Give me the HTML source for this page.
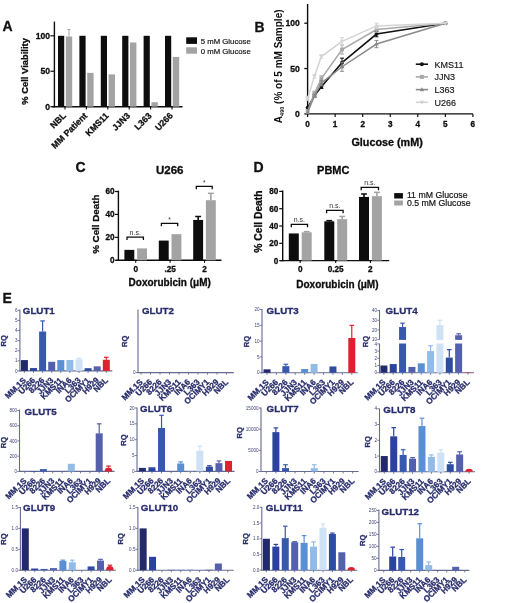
<!DOCTYPE html>
<html><head><meta charset="utf-8"><style>
html,body{margin:0;padding:0;background:#fff;}
svg{display:block;filter:blur(0.4px);}
text{font-family:"Liberation Sans", sans-serif;}
</style></head><body>
<svg width="520" height="603" viewBox="0 0 520 603">
<rect width="520" height="603" fill="#fff"/>
<text x="2.50" y="31.00" font-size="14" fill="#111" font-weight="bold" text-anchor="start" stroke="#111" stroke-width="0.3">A</text>
<line x1="54.40" y1="21.60" x2="54.40" y2="107.30" stroke="#0d0d0d" stroke-width="1.4"/>
<line x1="52.20" y1="106.70" x2="182.50" y2="106.70" stroke="#0d0d0d" stroke-width="1.4"/>
<line x1="50.40" y1="106.70" x2="54.40" y2="106.70" stroke="#0d0d0d" stroke-width="1.2"/>
<text x="50.00" y="109.70" font-size="8.6" fill="#0d0d0d" font-weight="bold" text-anchor="end" stroke="#0d0d0d" stroke-width="0.3">0</text>
<line x1="50.40" y1="71.25" x2="54.40" y2="71.25" stroke="#0d0d0d" stroke-width="1.2"/>
<text x="50.00" y="74.25" font-size="8.6" fill="#0d0d0d" font-weight="bold" text-anchor="end" stroke="#0d0d0d" stroke-width="0.3">50</text>
<line x1="50.40" y1="35.80" x2="54.40" y2="35.80" stroke="#0d0d0d" stroke-width="1.2"/>
<text x="50.00" y="38.80" font-size="8.6" fill="#0d0d0d" font-weight="bold" text-anchor="end" stroke="#0d0d0d" stroke-width="0.3">100</text>
<text x="28.20" y="71.40" font-size="9.4" fill="#0d0d0d" font-weight="bold" text-anchor="middle" transform="rotate(-90 28.20 71.40)" stroke="#0d0d0d" stroke-width="0.3">% Cell Viability</text>
<rect x="58.00" y="35.80" width="6.20" height="70.90" fill="#0d0d0d"/>
<rect x="65.80" y="36.51" width="6.40" height="70.19" fill="#a3a3a3"/>
<line x1="69.00" y1="29.56" x2="69.00" y2="36.51" stroke="#a3a3a3" stroke-width="1.0"/>
<line x1="67.50" y1="29.56" x2="70.50" y2="29.56" stroke="#a3a3a3" stroke-width="1.0"/>
<line x1="65.00" y1="106.70" x2="65.00" y2="109.50" stroke="#0d0d0d" stroke-width="1.1"/>
<text x="66.50" y="116.30" font-size="8.8" fill="#0d0d0d" font-weight="bold" text-anchor="end" transform="rotate(-45 66.50 116.30)" stroke="#0d0d0d" stroke-width="0.3">NBL</text>
<rect x="79.40" y="35.80" width="6.20" height="70.90" fill="#0d0d0d"/>
<rect x="87.20" y="72.88" width="6.40" height="33.82" fill="#a3a3a3"/>
<line x1="86.40" y1="106.70" x2="86.40" y2="109.50" stroke="#0d0d0d" stroke-width="1.1"/>
<text x="87.90" y="116.30" font-size="8.8" fill="#0d0d0d" font-weight="bold" text-anchor="end" transform="rotate(-45 87.90 116.30)" stroke="#0d0d0d" stroke-width="0.3">MM Patient</text>
<rect x="100.80" y="35.80" width="6.20" height="70.90" fill="#0d0d0d"/>
<rect x="108.60" y="74.37" width="6.40" height="32.33" fill="#a3a3a3"/>
<line x1="107.80" y1="106.70" x2="107.80" y2="109.50" stroke="#0d0d0d" stroke-width="1.1"/>
<text x="109.30" y="116.30" font-size="8.8" fill="#0d0d0d" font-weight="bold" text-anchor="end" transform="rotate(-45 109.30 116.30)" stroke="#0d0d0d" stroke-width="0.3">KMS11</text>
<rect x="122.20" y="35.80" width="6.20" height="70.90" fill="#0d0d0d"/>
<rect x="130.00" y="42.46" width="6.40" height="64.24" fill="#a3a3a3"/>
<line x1="129.20" y1="106.70" x2="129.20" y2="109.50" stroke="#0d0d0d" stroke-width="1.1"/>
<text x="130.70" y="116.30" font-size="8.8" fill="#0d0d0d" font-weight="bold" text-anchor="end" transform="rotate(-45 130.70 116.30)" stroke="#0d0d0d" stroke-width="0.3">JJN3</text>
<rect x="143.60" y="35.80" width="6.20" height="70.90" fill="#0d0d0d"/>
<rect x="151.40" y="102.23" width="6.40" height="4.47" fill="#a3a3a3"/>
<line x1="150.60" y1="106.70" x2="150.60" y2="109.50" stroke="#0d0d0d" stroke-width="1.1"/>
<text x="152.10" y="116.30" font-size="8.8" fill="#0d0d0d" font-weight="bold" text-anchor="end" transform="rotate(-45 152.10 116.30)" stroke="#0d0d0d" stroke-width="0.3">L363</text>
<rect x="165.00" y="35.80" width="6.20" height="70.90" fill="#0d0d0d"/>
<rect x="172.80" y="56.93" width="6.40" height="49.77" fill="#a3a3a3"/>
<line x1="172.00" y1="106.70" x2="172.00" y2="109.50" stroke="#0d0d0d" stroke-width="1.1"/>
<text x="173.50" y="116.30" font-size="8.8" fill="#0d0d0d" font-weight="bold" text-anchor="end" transform="rotate(-45 173.50 116.30)" stroke="#0d0d0d" stroke-width="0.3">U266</text>
<rect x="186.20" y="37.30" width="10.80" height="6.60" fill="#0d0d0d"/>
<rect x="186.20" y="47.30" width="10.80" height="6.40" fill="#a3a3a3"/>
<text x="200.80" y="43.80" font-size="7.75" fill="#111" font-weight="normal" text-anchor="start" stroke="#111" stroke-width="0.18">5 mM Glucose</text>
<text x="200.80" y="53.60" font-size="7.75" fill="#111" font-weight="normal" text-anchor="start" stroke="#111" stroke-width="0.18">0 mM Glucose</text>
<text x="254.50" y="31.80" font-size="14" fill="#111" font-weight="bold" text-anchor="start" stroke="#111" stroke-width="0.3">B</text>
<line x1="307.60" y1="4.00" x2="307.60" y2="114.50" stroke="#0d0d0d" stroke-width="1.4"/>
<line x1="306.90" y1="113.90" x2="472.90" y2="113.90" stroke="#0d0d0d" stroke-width="1.4"/>
<line x1="304.30" y1="113.90" x2="307.60" y2="113.90" stroke="#0d0d0d" stroke-width="1.3"/>
<text x="299.80" y="116.90" font-size="8.6" fill="#0d0d0d" font-weight="bold" text-anchor="end" stroke="#0d0d0d" stroke-width="0.3">0</text>
<line x1="304.30" y1="68.55" x2="307.60" y2="68.55" stroke="#0d0d0d" stroke-width="1.3"/>
<text x="299.80" y="71.55" font-size="8.6" fill="#0d0d0d" font-weight="bold" text-anchor="end" stroke="#0d0d0d" stroke-width="0.3">50</text>
<line x1="304.30" y1="23.20" x2="307.60" y2="23.20" stroke="#0d0d0d" stroke-width="1.3"/>
<text x="299.80" y="26.20" font-size="8.6" fill="#0d0d0d" font-weight="bold" text-anchor="end" stroke="#0d0d0d" stroke-width="0.3">100</text>
<line x1="307.60" y1="113.90" x2="307.60" y2="116.90" stroke="#0d0d0d" stroke-width="1.2"/>
<text x="307.60" y="127.30" font-size="8.2" fill="#0d0d0d" font-weight="bold" text-anchor="middle" stroke="#0d0d0d" stroke-width="0.3">0</text>
<line x1="335.15" y1="113.90" x2="335.15" y2="116.90" stroke="#0d0d0d" stroke-width="1.2"/>
<text x="335.15" y="127.30" font-size="8.2" fill="#0d0d0d" font-weight="bold" text-anchor="middle" stroke="#0d0d0d" stroke-width="0.3">1</text>
<line x1="362.70" y1="113.90" x2="362.70" y2="116.90" stroke="#0d0d0d" stroke-width="1.2"/>
<text x="362.70" y="127.30" font-size="8.2" fill="#0d0d0d" font-weight="bold" text-anchor="middle" stroke="#0d0d0d" stroke-width="0.3">2</text>
<line x1="390.25" y1="113.90" x2="390.25" y2="116.90" stroke="#0d0d0d" stroke-width="1.2"/>
<text x="390.25" y="127.30" font-size="8.2" fill="#0d0d0d" font-weight="bold" text-anchor="middle" stroke="#0d0d0d" stroke-width="0.3">3</text>
<line x1="417.80" y1="113.90" x2="417.80" y2="116.90" stroke="#0d0d0d" stroke-width="1.2"/>
<text x="417.80" y="127.30" font-size="8.2" fill="#0d0d0d" font-weight="bold" text-anchor="middle" stroke="#0d0d0d" stroke-width="0.3">4</text>
<line x1="445.35" y1="113.90" x2="445.35" y2="116.90" stroke="#0d0d0d" stroke-width="1.2"/>
<text x="445.35" y="127.30" font-size="8.2" fill="#0d0d0d" font-weight="bold" text-anchor="middle" stroke="#0d0d0d" stroke-width="0.3">5</text>
<line x1="472.90" y1="113.90" x2="472.90" y2="116.90" stroke="#0d0d0d" stroke-width="1.2"/>
<text x="472.90" y="127.30" font-size="8.2" fill="#0d0d0d" font-weight="bold" text-anchor="middle" stroke="#0d0d0d" stroke-width="0.3">6</text>
<text x="387.10" y="145.70" font-size="10.8" fill="#0d0d0d" font-weight="bold" text-anchor="middle" stroke="#0d0d0d" stroke-width="0.3">Glucose (mM)</text>
<text transform="translate(281.8 66.3) rotate(-90)" font-size="10" font-weight="bold" fill="#0d0d0d" text-anchor="middle">A<tspan font-size="5.5" dy="2">490</tspan><tspan dy="-2"> (% of 5 mM Sample)</tspan></text>
<polyline points="307.60,107.55 314.49,95.76 321.38,86.69 342.04,62.65 376.48,34.08 445.35,23.20" fill="none" stroke="#111111" stroke-width="1.5"/>
<circle cx="307.60" cy="107.55" r="1.9" fill="#111111"/>
<line x1="314.49" y1="94.40" x2="314.49" y2="97.12" stroke="#111111" stroke-width="1.0"/>
<line x1="312.49" y1="94.40" x2="316.49" y2="94.40" stroke="#111111" stroke-width="1.0"/>
<line x1="312.49" y1="97.12" x2="316.49" y2="97.12" stroke="#111111" stroke-width="1.0"/>
<circle cx="314.49" cy="95.76" r="1.9" fill="#111111"/>
<line x1="321.38" y1="84.88" x2="321.38" y2="88.50" stroke="#111111" stroke-width="1.0"/>
<line x1="319.38" y1="84.88" x2="323.38" y2="84.88" stroke="#111111" stroke-width="1.0"/>
<line x1="319.38" y1="88.50" x2="323.38" y2="88.50" stroke="#111111" stroke-width="1.0"/>
<circle cx="321.38" cy="86.69" r="1.9" fill="#111111"/>
<line x1="342.04" y1="58.12" x2="342.04" y2="67.19" stroke="#111111" stroke-width="1.0"/>
<line x1="340.04" y1="58.12" x2="344.04" y2="58.12" stroke="#111111" stroke-width="1.0"/>
<line x1="340.04" y1="67.19" x2="344.04" y2="67.19" stroke="#111111" stroke-width="1.0"/>
<circle cx="342.04" cy="62.65" r="1.9" fill="#111111"/>
<line x1="376.48" y1="31.36" x2="376.48" y2="36.81" stroke="#111111" stroke-width="1.0"/>
<line x1="374.48" y1="31.36" x2="378.48" y2="31.36" stroke="#111111" stroke-width="1.0"/>
<line x1="374.48" y1="36.81" x2="378.48" y2="36.81" stroke="#111111" stroke-width="1.0"/>
<circle cx="376.48" cy="34.08" r="1.9" fill="#111111"/>
<circle cx="445.35" cy="23.20" r="1.9" fill="#111111"/>
<polyline points="307.60,111.18 314.49,93.04 321.38,78.53 342.04,49.50 376.48,29.55 445.35,23.20" fill="none" stroke="#a8a8a8" stroke-width="1.5"/>
<rect x="305.70" y="109.28" width="3.80" height="3.80" fill="#a8a8a8"/>
<line x1="314.49" y1="91.22" x2="314.49" y2="94.85" stroke="#a8a8a8" stroke-width="1.0"/>
<line x1="312.49" y1="91.22" x2="316.49" y2="91.22" stroke="#a8a8a8" stroke-width="1.0"/>
<line x1="312.49" y1="94.85" x2="316.49" y2="94.85" stroke="#a8a8a8" stroke-width="1.0"/>
<rect x="312.59" y="91.14" width="3.80" height="3.80" fill="#a8a8a8"/>
<line x1="321.38" y1="75.81" x2="321.38" y2="81.25" stroke="#a8a8a8" stroke-width="1.0"/>
<line x1="319.38" y1="75.81" x2="323.38" y2="75.81" stroke="#a8a8a8" stroke-width="1.0"/>
<line x1="319.38" y1="81.25" x2="323.38" y2="81.25" stroke="#a8a8a8" stroke-width="1.0"/>
<rect x="319.48" y="76.63" width="3.80" height="3.80" fill="#a8a8a8"/>
<line x1="342.04" y1="44.97" x2="342.04" y2="54.04" stroke="#a8a8a8" stroke-width="1.0"/>
<line x1="340.04" y1="44.97" x2="344.04" y2="44.97" stroke="#a8a8a8" stroke-width="1.0"/>
<line x1="340.04" y1="54.04" x2="344.04" y2="54.04" stroke="#a8a8a8" stroke-width="1.0"/>
<rect x="340.14" y="47.60" width="3.80" height="3.80" fill="#a8a8a8"/>
<line x1="376.48" y1="26.83" x2="376.48" y2="32.27" stroke="#a8a8a8" stroke-width="1.0"/>
<line x1="374.48" y1="26.83" x2="378.48" y2="26.83" stroke="#a8a8a8" stroke-width="1.0"/>
<line x1="374.48" y1="32.27" x2="378.48" y2="32.27" stroke="#a8a8a8" stroke-width="1.0"/>
<rect x="374.58" y="27.65" width="3.80" height="3.80" fill="#a8a8a8"/>
<rect x="443.45" y="21.30" width="3.80" height="3.80" fill="#a8a8a8"/>
<polyline points="307.60,112.54 314.49,95.76 321.38,83.06 342.04,66.74 376.48,44.06 445.35,23.20" fill="none" stroke="#8a8a8a" stroke-width="1.5"/>
<polygon points="307.60,110.26 309.79,114.06 305.42,114.06" fill="#8a8a8a"/>
<line x1="314.49" y1="93.95" x2="314.49" y2="97.57" stroke="#8a8a8a" stroke-width="1.0"/>
<line x1="312.49" y1="93.95" x2="316.49" y2="93.95" stroke="#8a8a8a" stroke-width="1.0"/>
<line x1="312.49" y1="97.57" x2="316.49" y2="97.57" stroke="#8a8a8a" stroke-width="1.0"/>
<polygon points="314.49,93.48 316.67,97.28 312.30,97.28" fill="#8a8a8a"/>
<line x1="321.38" y1="80.34" x2="321.38" y2="85.78" stroke="#8a8a8a" stroke-width="1.0"/>
<line x1="319.38" y1="80.34" x2="323.38" y2="80.34" stroke="#8a8a8a" stroke-width="1.0"/>
<line x1="319.38" y1="85.78" x2="323.38" y2="85.78" stroke="#8a8a8a" stroke-width="1.0"/>
<polygon points="321.38,80.78 323.56,84.58 319.19,84.58" fill="#8a8a8a"/>
<line x1="342.04" y1="62.20" x2="342.04" y2="71.27" stroke="#8a8a8a" stroke-width="1.0"/>
<line x1="340.04" y1="62.20" x2="344.04" y2="62.20" stroke="#8a8a8a" stroke-width="1.0"/>
<line x1="340.04" y1="71.27" x2="344.04" y2="71.27" stroke="#8a8a8a" stroke-width="1.0"/>
<polygon points="342.04,64.46 344.22,68.26 339.85,68.26" fill="#8a8a8a"/>
<line x1="376.48" y1="40.43" x2="376.48" y2="47.69" stroke="#8a8a8a" stroke-width="1.0"/>
<line x1="374.48" y1="40.43" x2="378.48" y2="40.43" stroke="#8a8a8a" stroke-width="1.0"/>
<line x1="374.48" y1="47.69" x2="378.48" y2="47.69" stroke="#8a8a8a" stroke-width="1.0"/>
<polygon points="376.48,41.78 378.66,45.58 374.29,45.58" fill="#8a8a8a"/>
<polygon points="445.35,20.92 447.54,24.72 443.17,24.72" fill="#8a8a8a"/>
<polyline points="307.60,98.48 314.49,76.26 321.38,56.58 342.04,41.34 376.48,25.92 445.35,23.20" fill="none" stroke="#d4d4d4" stroke-width="1.5"/>
<line x1="307.60" y1="96.67" x2="307.60" y2="100.30" stroke="#d4d4d4" stroke-width="1.0"/>
<line x1="305.60" y1="96.67" x2="309.60" y2="96.67" stroke="#d4d4d4" stroke-width="1.0"/>
<line x1="305.60" y1="100.30" x2="309.60" y2="100.30" stroke="#d4d4d4" stroke-width="1.0"/>
<polygon points="307.60,100.76 309.79,96.96 305.42,96.96" fill="#d4d4d4"/>
<line x1="314.49" y1="74.45" x2="314.49" y2="78.07" stroke="#d4d4d4" stroke-width="1.0"/>
<line x1="312.49" y1="74.45" x2="316.49" y2="74.45" stroke="#d4d4d4" stroke-width="1.0"/>
<line x1="312.49" y1="78.07" x2="316.49" y2="78.07" stroke="#d4d4d4" stroke-width="1.0"/>
<polygon points="314.49,78.54 316.67,74.74 312.30,74.74" fill="#d4d4d4"/>
<line x1="321.38" y1="54.76" x2="321.38" y2="58.39" stroke="#d4d4d4" stroke-width="1.0"/>
<line x1="319.38" y1="54.76" x2="323.38" y2="54.76" stroke="#d4d4d4" stroke-width="1.0"/>
<line x1="319.38" y1="58.39" x2="323.38" y2="58.39" stroke="#d4d4d4" stroke-width="1.0"/>
<polygon points="321.38,58.86 323.56,55.06 319.19,55.06" fill="#d4d4d4"/>
<line x1="342.04" y1="37.71" x2="342.04" y2="44.97" stroke="#d4d4d4" stroke-width="1.0"/>
<line x1="340.04" y1="37.71" x2="344.04" y2="37.71" stroke="#d4d4d4" stroke-width="1.0"/>
<line x1="340.04" y1="44.97" x2="344.04" y2="44.97" stroke="#d4d4d4" stroke-width="1.0"/>
<polygon points="342.04,43.62 344.22,39.82 339.85,39.82" fill="#d4d4d4"/>
<line x1="376.48" y1="23.20" x2="376.48" y2="28.64" stroke="#d4d4d4" stroke-width="1.0"/>
<line x1="374.48" y1="23.20" x2="378.48" y2="23.20" stroke="#d4d4d4" stroke-width="1.0"/>
<line x1="374.48" y1="28.64" x2="378.48" y2="28.64" stroke="#d4d4d4" stroke-width="1.0"/>
<polygon points="376.48,28.20 378.66,24.40 374.29,24.40" fill="#d4d4d4"/>
<polygon points="445.35,25.48 447.54,21.68 443.17,21.68" fill="#d4d4d4"/>
<line x1="415.80" y1="64.20" x2="428.00" y2="64.20" stroke="#111111" stroke-width="1.6"/>
<circle cx="421.90" cy="64.20" r="2.0" fill="#111111"/>
<text x="434.60" y="67.50" font-size="9" fill="#1a1a1a" font-weight="normal" text-anchor="start" stroke="#1a1a1a" stroke-width="0.18">KMS11</text>
<line x1="415.80" y1="76.90" x2="428.00" y2="76.90" stroke="#a8a8a8" stroke-width="1.6"/>
<rect x="419.90" y="74.90" width="4.00" height="4.00" fill="#a8a8a8"/>
<text x="434.60" y="80.20" font-size="9" fill="#1a1a1a" font-weight="normal" text-anchor="start" stroke="#1a1a1a" stroke-width="0.18">JJN3</text>
<line x1="415.80" y1="89.60" x2="428.00" y2="89.60" stroke="#8a8a8a" stroke-width="1.6"/>
<polygon points="421.90,87.20 424.20,91.20 419.60,91.20" fill="#8a8a8a"/>
<text x="434.60" y="92.90" font-size="9" fill="#1a1a1a" font-weight="normal" text-anchor="start" stroke="#1a1a1a" stroke-width="0.18">L363</text>
<line x1="415.80" y1="102.30" x2="428.00" y2="102.30" stroke="#d4d4d4" stroke-width="1.6"/>
<polygon points="421.90,104.70 424.20,100.70 419.60,100.70" fill="#d4d4d4"/>
<text x="434.60" y="105.60" font-size="9" fill="#1a1a1a" font-weight="normal" text-anchor="start" stroke="#1a1a1a" stroke-width="0.18">U266</text>
<text x="75.50" y="171.90" font-size="14" fill="#111" font-weight="bold" text-anchor="start" stroke="#111" stroke-width="0.3">C</text>
<text x="169.70" y="173.60" font-size="11.5" fill="#0d0d0d" font-weight="bold" text-anchor="middle" stroke="#0d0d0d" stroke-width="0.3">U266</text>
<line x1="118.40" y1="190.60" x2="118.40" y2="260.90" stroke="#0d0d0d" stroke-width="1.4"/>
<line x1="116.20" y1="260.30" x2="221.50" y2="260.30" stroke="#0d0d0d" stroke-width="1.4"/>
<line x1="114.90" y1="260.30" x2="118.40" y2="260.30" stroke="#0d0d0d" stroke-width="1.2"/>
<text x="114.50" y="263.20" font-size="8.2" fill="#0d0d0d" font-weight="bold" text-anchor="end" stroke="#0d0d0d" stroke-width="0.3">0</text>
<line x1="114.90" y1="237.37" x2="118.40" y2="237.37" stroke="#0d0d0d" stroke-width="1.2"/>
<text x="114.50" y="240.27" font-size="8.2" fill="#0d0d0d" font-weight="bold" text-anchor="end" stroke="#0d0d0d" stroke-width="0.3">20</text>
<line x1="114.90" y1="214.43" x2="118.40" y2="214.43" stroke="#0d0d0d" stroke-width="1.2"/>
<text x="114.50" y="217.33" font-size="8.2" fill="#0d0d0d" font-weight="bold" text-anchor="end" stroke="#0d0d0d" stroke-width="0.3">40</text>
<line x1="114.90" y1="191.50" x2="118.40" y2="191.50" stroke="#0d0d0d" stroke-width="1.2"/>
<text x="114.50" y="194.40" font-size="8.2" fill="#0d0d0d" font-weight="bold" text-anchor="end" stroke="#0d0d0d" stroke-width="0.3">60</text>
<text x="99.00" y="224.20" font-size="9.8" fill="#0d0d0d" font-weight="bold" text-anchor="middle" transform="rotate(-90 99.00 224.20)" stroke="#0d0d0d" stroke-width="0.3">% Cell Death</text>
<rect x="124.40" y="249.87" width="9.90" height="10.43" fill="#0d0d0d"/>
<rect x="137.10" y="248.37" width="9.90" height="11.93" fill="#a3a3a3"/>
<line x1="135.70" y1="260.30" x2="135.70" y2="262.80" stroke="#0d0d0d" stroke-width="1.1"/>
<text x="135.70" y="272.30" font-size="8.2" fill="#0d0d0d" font-weight="bold" text-anchor="middle" stroke="#0d0d0d" stroke-width="0.3">0</text>
<rect x="158.80" y="240.58" width="9.90" height="19.72" fill="#0d0d0d"/>
<rect x="171.50" y="234.16" width="9.90" height="26.14" fill="#a3a3a3"/>
<line x1="170.10" y1="260.30" x2="170.10" y2="262.80" stroke="#0d0d0d" stroke-width="1.1"/>
<text x="170.10" y="272.30" font-size="8.2" fill="#0d0d0d" font-weight="bold" text-anchor="middle" stroke="#0d0d0d" stroke-width="0.3">.25</text>
<rect x="193.20" y="219.94" width="9.90" height="40.36" fill="#0d0d0d"/>
<rect x="205.90" y="200.21" width="9.90" height="60.09" fill="#a3a3a3"/>
<line x1="198.15" y1="216.50" x2="198.15" y2="219.94" stroke="#0d0d0d" stroke-width="1.6"/>
<line x1="195.20" y1="216.50" x2="201.10" y2="216.50" stroke="#0d0d0d" stroke-width="1.5"/>
<line x1="210.85" y1="193.33" x2="210.85" y2="200.21" stroke="#a3a3a3" stroke-width="1.6"/>
<line x1="207.90" y1="193.33" x2="213.80" y2="193.33" stroke="#a3a3a3" stroke-width="1.5"/>
<line x1="204.50" y1="260.30" x2="204.50" y2="262.80" stroke="#0d0d0d" stroke-width="1.1"/>
<text x="204.50" y="272.30" font-size="8.2" fill="#0d0d0d" font-weight="bold" text-anchor="middle" stroke="#0d0d0d" stroke-width="0.3">2</text>
<polyline points="127.00,240.00 127.00,237.20 143.40,237.20 143.40,240.00" fill="none" stroke="#0d0d0d" stroke-width="1.3"/>
<text x="135.20" y="234.90" font-size="7" fill="#333" font-weight="normal" text-anchor="middle">n.s.</text>
<polyline points="161.40,226.20 161.40,223.40 177.70,223.40 177.70,226.20" fill="none" stroke="#0d0d0d" stroke-width="1.3"/>
<text x="169.55" y="222.20" font-size="6.5" fill="#333" font-weight="normal" text-anchor="middle">*</text>
<polyline points="196.30,189.20 196.30,186.40 212.20,186.40 212.20,189.20" fill="none" stroke="#0d0d0d" stroke-width="1.3"/>
<text x="204.25" y="185.20" font-size="6.5" fill="#333" font-weight="normal" text-anchor="middle">*</text>
<text x="169.70" y="286.40" font-size="10" fill="#0d0d0d" font-weight="bold" text-anchor="middle" stroke="#0d0d0d" stroke-width="0.3">Doxorubicin (&#956;M)</text>
<text x="253.50" y="171.90" font-size="14" fill="#111" font-weight="bold" text-anchor="start" stroke="#111" stroke-width="0.3">D</text>
<text x="333.30" y="174.00" font-size="11" fill="#0d0d0d" font-weight="bold" text-anchor="middle" stroke="#0d0d0d" stroke-width="0.3">PBMC</text>
<line x1="282.70" y1="190.60" x2="282.70" y2="261.20" stroke="#0d0d0d" stroke-width="1.4"/>
<line x1="280.30" y1="260.60" x2="389.20" y2="260.60" stroke="#0d0d0d" stroke-width="1.4"/>
<line x1="279.20" y1="260.60" x2="282.70" y2="260.60" stroke="#0d0d0d" stroke-width="1.2"/>
<text x="278.30" y="263.50" font-size="8.2" fill="#0d0d0d" font-weight="bold" text-anchor="end" stroke="#0d0d0d" stroke-width="0.3">0</text>
<line x1="279.20" y1="243.30" x2="282.70" y2="243.30" stroke="#0d0d0d" stroke-width="1.2"/>
<text x="278.30" y="246.20" font-size="8.2" fill="#0d0d0d" font-weight="bold" text-anchor="end" stroke="#0d0d0d" stroke-width="0.3">20</text>
<line x1="279.20" y1="226.00" x2="282.70" y2="226.00" stroke="#0d0d0d" stroke-width="1.2"/>
<text x="278.30" y="228.90" font-size="8.2" fill="#0d0d0d" font-weight="bold" text-anchor="end" stroke="#0d0d0d" stroke-width="0.3">40</text>
<line x1="279.20" y1="208.70" x2="282.70" y2="208.70" stroke="#0d0d0d" stroke-width="1.2"/>
<text x="278.30" y="211.60" font-size="8.2" fill="#0d0d0d" font-weight="bold" text-anchor="end" stroke="#0d0d0d" stroke-width="0.3">60</text>
<line x1="279.20" y1="191.40" x2="282.70" y2="191.40" stroke="#0d0d0d" stroke-width="1.2"/>
<text x="278.30" y="194.30" font-size="8.2" fill="#0d0d0d" font-weight="bold" text-anchor="end" stroke="#0d0d0d" stroke-width="0.3">80</text>
<text x="261.70" y="221.60" font-size="10.3" fill="#0d0d0d" font-weight="bold" text-anchor="middle" transform="rotate(-90 261.70 221.60)" stroke="#0d0d0d" stroke-width="0.3">% Cell Death</text>
<rect x="288.80" y="233.44" width="10.00" height="27.16" fill="#0d0d0d"/>
<rect x="301.70" y="232.31" width="10.00" height="28.29" fill="#a3a3a3"/>
<line x1="306.70" y1="231.62" x2="306.70" y2="232.31" stroke="#a3a3a3" stroke-width="1.6"/>
<line x1="303.80" y1="231.62" x2="309.60" y2="231.62" stroke="#a3a3a3" stroke-width="1.5"/>
<line x1="300.20" y1="260.60" x2="300.20" y2="263.10" stroke="#0d0d0d" stroke-width="1.1"/>
<text x="300.20" y="271.80" font-size="8.2" fill="#0d0d0d" font-weight="bold" text-anchor="middle" stroke="#0d0d0d" stroke-width="0.3">0</text>
<rect x="324.30" y="221.33" width="10.00" height="39.27" fill="#0d0d0d"/>
<rect x="337.20" y="219.17" width="10.00" height="41.43" fill="#a3a3a3"/>
<line x1="329.30" y1="220.64" x2="329.30" y2="221.33" stroke="#0d0d0d" stroke-width="1.6"/>
<line x1="326.40" y1="220.64" x2="332.20" y2="220.64" stroke="#0d0d0d" stroke-width="1.5"/>
<line x1="342.20" y1="216.40" x2="342.20" y2="219.17" stroke="#a3a3a3" stroke-width="1.6"/>
<line x1="339.30" y1="216.40" x2="345.10" y2="216.40" stroke="#a3a3a3" stroke-width="1.5"/>
<line x1="335.70" y1="260.60" x2="335.70" y2="263.10" stroke="#0d0d0d" stroke-width="1.1"/>
<text x="335.70" y="271.80" font-size="8.2" fill="#0d0d0d" font-weight="bold" text-anchor="middle" stroke="#0d0d0d" stroke-width="0.3">0.25</text>
<rect x="359.00" y="196.94" width="10.00" height="63.66" fill="#0d0d0d"/>
<rect x="371.90" y="196.16" width="10.00" height="64.44" fill="#a3a3a3"/>
<line x1="364.00" y1="194.00" x2="364.00" y2="196.94" stroke="#0d0d0d" stroke-width="1.6"/>
<line x1="361.10" y1="194.00" x2="366.90" y2="194.00" stroke="#0d0d0d" stroke-width="1.5"/>
<line x1="376.90" y1="192.35" x2="376.90" y2="196.16" stroke="#a3a3a3" stroke-width="1.6"/>
<line x1="374.00" y1="192.35" x2="379.80" y2="192.35" stroke="#a3a3a3" stroke-width="1.5"/>
<line x1="370.40" y1="260.60" x2="370.40" y2="263.10" stroke="#0d0d0d" stroke-width="1.1"/>
<text x="370.40" y="271.80" font-size="8.2" fill="#0d0d0d" font-weight="bold" text-anchor="middle" stroke="#0d0d0d" stroke-width="0.3">2</text>
<polyline points="291.30,227.20 291.30,224.40 307.50,224.40 307.50,227.20" fill="none" stroke="#0d0d0d" stroke-width="1.3"/>
<text x="299.40" y="222.10" font-size="7" fill="#333" font-weight="normal" text-anchor="middle">n.s.</text>
<polyline points="326.60,213.20 326.60,210.40 343.10,210.40 343.10,213.20" fill="none" stroke="#0d0d0d" stroke-width="1.3"/>
<text x="334.85" y="208.10" font-size="7" fill="#333" font-weight="normal" text-anchor="middle">n.s.</text>
<polyline points="361.20,190.20 361.20,187.40 378.50,187.40 378.50,190.20" fill="none" stroke="#0d0d0d" stroke-width="1.3"/>
<text x="369.85" y="185.10" font-size="7" fill="#333" font-weight="normal" text-anchor="middle">n.s.</text>
<text x="337.40" y="287.70" font-size="10" fill="#0d0d0d" font-weight="bold" text-anchor="middle" stroke="#0d0d0d" stroke-width="0.3">Doxorubicin (&#956;M)</text>
<rect x="394.20" y="193.10" width="8.70" height="5.40" fill="#0d0d0d"/>
<rect x="394.20" y="200.50" width="8.70" height="5.00" fill="#a3a3a3"/>
<text x="406.90" y="198.10" font-size="8.75" fill="#111" font-weight="normal" text-anchor="start" stroke="#111" stroke-width="0.18">11 mM Glucose</text>
<text x="406.90" y="205.90" font-size="8.75" fill="#111" font-weight="normal" text-anchor="start" stroke="#111" stroke-width="0.18">0.5 mM Glucose</text>
<text x="2.50" y="302.50" font-size="14" fill="#111" font-weight="bold" text-anchor="start" stroke="#111" stroke-width="0.3">E</text>
<line x1="19.90" y1="309.50" x2="19.90" y2="371.40" stroke="#666b92" stroke-width="1.1"/>
<line x1="19.40" y1="370.90" x2="112.30" y2="370.90" stroke="#666b92" stroke-width="1.1"/>
<line x1="17.70" y1="370.90" x2="19.90" y2="370.90" stroke="#666b92" stroke-width="0.9"/>
<text x="17.50" y="372.50" font-size="4.6" fill="#3c4175" font-weight="normal" text-anchor="end">0</text>
<line x1="17.70" y1="360.80" x2="19.90" y2="360.80" stroke="#666b92" stroke-width="0.9"/>
<text x="17.50" y="362.40" font-size="4.6" fill="#3c4175" font-weight="normal" text-anchor="end">1</text>
<line x1="17.70" y1="350.70" x2="19.90" y2="350.70" stroke="#666b92" stroke-width="0.9"/>
<text x="17.50" y="352.30" font-size="4.6" fill="#3c4175" font-weight="normal" text-anchor="end">2</text>
<line x1="17.70" y1="340.60" x2="19.90" y2="340.60" stroke="#666b92" stroke-width="0.9"/>
<text x="17.50" y="342.20" font-size="4.6" fill="#3c4175" font-weight="normal" text-anchor="end">3</text>
<line x1="17.70" y1="330.50" x2="19.90" y2="330.50" stroke="#666b92" stroke-width="0.9"/>
<text x="17.50" y="332.10" font-size="4.6" fill="#3c4175" font-weight="normal" text-anchor="end">4</text>
<line x1="17.70" y1="320.40" x2="19.90" y2="320.40" stroke="#666b92" stroke-width="0.9"/>
<text x="17.50" y="322.00" font-size="4.6" fill="#3c4175" font-weight="normal" text-anchor="end">5</text>
<line x1="17.70" y1="310.30" x2="19.90" y2="310.30" stroke="#666b92" stroke-width="0.9"/>
<text x="17.50" y="311.90" font-size="4.6" fill="#3c4175" font-weight="normal" text-anchor="end">6</text>
<text x="5.90" y="340.80" font-size="7.6" fill="#282d6b" font-weight="bold" text-anchor="middle" transform="rotate(-90 5.90 340.80)" stroke="#282d6b" stroke-width="0.3">RQ</text>
<text x="22.80" y="314.30" font-size="9.75" fill="#282d6b" font-weight="bold" text-anchor="start" stroke="#282d6b" stroke-width="0.3">GLUT1</text>
<line x1="24.40" y1="370.90" x2="24.40" y2="372.90" stroke="#666b92" stroke-width="0.9"/>
<text x="26.70" y="380.90" font-size="8.2" fill="#282d6b" font-weight="bold" text-anchor="end" transform="rotate(-45 26.70 380.90)" stroke="#282d6b" stroke-width="0.3">MM.1S</text>
<rect x="20.90" y="360.09" width="7.00" height="10.81" fill="#222a6c"/>
<line x1="33.50" y1="370.90" x2="33.50" y2="372.90" stroke="#666b92" stroke-width="0.9"/>
<text x="35.80" y="380.90" font-size="8.2" fill="#282d6b" font-weight="bold" text-anchor="end" transform="rotate(-45 35.80 380.90)" stroke="#282d6b" stroke-width="0.3">U266</text>
<rect x="30.00" y="368.07" width="7.00" height="2.83" fill="#2b42a0"/>
<line x1="42.60" y1="370.90" x2="42.60" y2="372.90" stroke="#666b92" stroke-width="0.9"/>
<text x="44.90" y="380.90" font-size="8.2" fill="#282d6b" font-weight="bold" text-anchor="end" transform="rotate(-45 44.90 380.90)" stroke="#282d6b" stroke-width="0.3">8226</text>
<rect x="39.10" y="331.51" width="7.00" height="39.39" fill="#3658ae"/>
<line x1="42.60" y1="320.90" x2="42.60" y2="331.51" stroke="#3658ae" stroke-width="1.2"/>
<line x1="40.30" y1="320.90" x2="44.90" y2="320.90" stroke="#3658ae" stroke-width="1.2"/>
<line x1="51.70" y1="370.90" x2="51.70" y2="372.90" stroke="#666b92" stroke-width="0.9"/>
<text x="54.00" y="380.90" font-size="8.2" fill="#282d6b" font-weight="bold" text-anchor="end" transform="rotate(-45 54.00 380.90)" stroke="#282d6b" stroke-width="0.3">JJN3</text>
<rect x="48.20" y="361.81" width="7.00" height="9.09" fill="#5260ae"/>
<line x1="60.80" y1="370.90" x2="60.80" y2="372.90" stroke="#666b92" stroke-width="0.9"/>
<text x="63.10" y="380.90" font-size="8.2" fill="#282d6b" font-weight="bold" text-anchor="end" transform="rotate(-45 63.10 380.90)" stroke="#282d6b" stroke-width="0.3">KMS11</text>
<rect x="57.30" y="360.09" width="7.00" height="10.81" fill="#5b8fd4"/>
<line x1="69.90" y1="370.90" x2="69.90" y2="372.90" stroke="#666b92" stroke-width="0.9"/>
<text x="72.20" y="380.90" font-size="8.2" fill="#282d6b" font-weight="bold" text-anchor="end" transform="rotate(-45 72.20 380.90)" stroke="#282d6b" stroke-width="0.3">INA6</text>
<rect x="66.40" y="359.99" width="7.00" height="10.91" fill="#93bbe7"/>
<line x1="79.00" y1="370.90" x2="79.00" y2="372.90" stroke="#666b92" stroke-width="0.9"/>
<text x="81.30" y="380.90" font-size="8.2" fill="#282d6b" font-weight="bold" text-anchor="end" transform="rotate(-45 81.30 380.90)" stroke="#282d6b" stroke-width="0.3">L363</text>
<rect x="75.50" y="359.28" width="7.00" height="11.62" fill="#cfe1f5"/>
<line x1="79.00" y1="358.27" x2="79.00" y2="359.28" stroke="#cfe1f5" stroke-width="1.2"/>
<line x1="76.70" y1="358.27" x2="81.30" y2="358.27" stroke="#cfe1f5" stroke-width="1.2"/>
<line x1="88.10" y1="370.90" x2="88.10" y2="372.90" stroke="#666b92" stroke-width="0.9"/>
<text x="90.40" y="380.90" font-size="8.2" fill="#282d6b" font-weight="bold" text-anchor="end" transform="rotate(-45 90.40 380.90)" stroke="#282d6b" stroke-width="0.3">OCIMY1</text>
<rect x="84.60" y="368.17" width="7.00" height="2.73" fill="#2e4ca0"/>
<line x1="97.20" y1="370.90" x2="97.20" y2="372.90" stroke="#666b92" stroke-width="0.9"/>
<text x="99.50" y="380.90" font-size="8.2" fill="#282d6b" font-weight="bold" text-anchor="end" transform="rotate(-45 99.50 380.90)" stroke="#282d6b" stroke-width="0.3">H929</text>
<rect x="93.70" y="366.35" width="7.00" height="4.55" fill="#5560ad"/>
<line x1="106.30" y1="370.90" x2="106.30" y2="372.90" stroke="#666b92" stroke-width="0.9"/>
<text x="108.60" y="380.90" font-size="8.2" fill="#282d6b" font-weight="bold" text-anchor="end" transform="rotate(-45 108.60 380.90)" stroke="#282d6b" stroke-width="0.3">NBL</text>
<rect x="102.80" y="359.79" width="7.00" height="11.11" fill="#e02030"/>
<line x1="106.30" y1="357.26" x2="106.30" y2="359.79" stroke="#e02030" stroke-width="1.2"/>
<line x1="104.00" y1="357.26" x2="108.60" y2="357.26" stroke="#e02030" stroke-width="1.2"/>
<line x1="138.00" y1="309.50" x2="138.00" y2="373.10" stroke="#666b92" stroke-width="1.1"/>
<line x1="137.50" y1="372.60" x2="233.80" y2="372.60" stroke="#666b92" stroke-width="1.1"/>
<line x1="135.80" y1="372.60" x2="138.00" y2="372.60" stroke="#666b92" stroke-width="0.9"/>
<text x="135.60" y="374.20" font-size="4.6" fill="#3c4175" font-weight="normal" text-anchor="end">0</text>
<text x="126.60" y="341.30" font-size="7.6" fill="#282d6b" font-weight="bold" text-anchor="middle" transform="rotate(-90 126.60 341.30)" stroke="#282d6b" stroke-width="0.3">RQ</text>
<text x="141.90" y="313.80" font-size="9.75" fill="#282d6b" font-weight="bold" text-anchor="start" stroke="#282d6b" stroke-width="0.3">GLUT2</text>
<line x1="141.00" y1="372.60" x2="141.00" y2="374.60" stroke="#666b92" stroke-width="0.9"/>
<text x="143.30" y="382.60" font-size="8.2" fill="#282d6b" font-weight="bold" text-anchor="end" transform="rotate(-45 143.30 382.60)" stroke="#282d6b" stroke-width="0.3">MM.1S</text>
<line x1="150.50" y1="372.60" x2="150.50" y2="374.60" stroke="#666b92" stroke-width="0.9"/>
<text x="152.80" y="382.60" font-size="8.2" fill="#282d6b" font-weight="bold" text-anchor="end" transform="rotate(-45 152.80 382.60)" stroke="#282d6b" stroke-width="0.3">U266</text>
<line x1="160.00" y1="372.60" x2="160.00" y2="374.60" stroke="#666b92" stroke-width="0.9"/>
<text x="162.30" y="382.60" font-size="8.2" fill="#282d6b" font-weight="bold" text-anchor="end" transform="rotate(-45 162.30 382.60)" stroke="#282d6b" stroke-width="0.3">8226</text>
<line x1="169.50" y1="372.60" x2="169.50" y2="374.60" stroke="#666b92" stroke-width="0.9"/>
<text x="171.80" y="382.60" font-size="8.2" fill="#282d6b" font-weight="bold" text-anchor="end" transform="rotate(-45 171.80 382.60)" stroke="#282d6b" stroke-width="0.3">JJN3</text>
<line x1="179.00" y1="372.60" x2="179.00" y2="374.60" stroke="#666b92" stroke-width="0.9"/>
<text x="181.30" y="382.60" font-size="8.2" fill="#282d6b" font-weight="bold" text-anchor="end" transform="rotate(-45 181.30 382.60)" stroke="#282d6b" stroke-width="0.3">KMS11</text>
<line x1="188.50" y1="372.60" x2="188.50" y2="374.60" stroke="#666b92" stroke-width="0.9"/>
<text x="190.80" y="382.60" font-size="8.2" fill="#282d6b" font-weight="bold" text-anchor="end" transform="rotate(-45 190.80 382.60)" stroke="#282d6b" stroke-width="0.3">INA6</text>
<line x1="198.00" y1="372.60" x2="198.00" y2="374.60" stroke="#666b92" stroke-width="0.9"/>
<text x="200.30" y="382.60" font-size="8.2" fill="#282d6b" font-weight="bold" text-anchor="end" transform="rotate(-45 200.30 382.60)" stroke="#282d6b" stroke-width="0.3">L363</text>
<line x1="207.50" y1="372.60" x2="207.50" y2="374.60" stroke="#666b92" stroke-width="0.9"/>
<text x="209.80" y="382.60" font-size="8.2" fill="#282d6b" font-weight="bold" text-anchor="end" transform="rotate(-45 209.80 382.60)" stroke="#282d6b" stroke-width="0.3">OCIMY1</text>
<line x1="217.00" y1="372.60" x2="217.00" y2="374.60" stroke="#666b92" stroke-width="0.9"/>
<text x="219.30" y="382.60" font-size="8.2" fill="#282d6b" font-weight="bold" text-anchor="end" transform="rotate(-45 219.30 382.60)" stroke="#282d6b" stroke-width="0.3">H929</text>
<line x1="226.50" y1="372.60" x2="226.50" y2="374.60" stroke="#666b92" stroke-width="0.9"/>
<text x="228.80" y="382.60" font-size="8.2" fill="#282d6b" font-weight="bold" text-anchor="end" transform="rotate(-45 228.80 382.60)" stroke="#282d6b" stroke-width="0.3">NBL</text>
<line x1="262.00" y1="309.00" x2="262.00" y2="373.30" stroke="#666b92" stroke-width="1.1"/>
<line x1="261.50" y1="372.80" x2="357.78" y2="372.80" stroke="#666b92" stroke-width="1.1"/>
<line x1="259.80" y1="372.80" x2="262.00" y2="372.80" stroke="#666b92" stroke-width="0.9"/>
<text x="259.60" y="374.40" font-size="4.6" fill="#3c4175" font-weight="normal" text-anchor="end">0</text>
<line x1="259.80" y1="356.98" x2="262.00" y2="356.98" stroke="#666b92" stroke-width="0.9"/>
<text x="259.60" y="358.58" font-size="4.6" fill="#3c4175" font-weight="normal" text-anchor="end">5</text>
<line x1="259.80" y1="341.15" x2="262.00" y2="341.15" stroke="#666b92" stroke-width="0.9"/>
<text x="259.60" y="342.75" font-size="4.6" fill="#3c4175" font-weight="normal" text-anchor="end">10</text>
<line x1="259.80" y1="325.32" x2="262.00" y2="325.32" stroke="#666b92" stroke-width="0.9"/>
<text x="259.60" y="326.93" font-size="4.6" fill="#3c4175" font-weight="normal" text-anchor="end">15</text>
<line x1="259.80" y1="309.50" x2="262.00" y2="309.50" stroke="#666b92" stroke-width="0.9"/>
<text x="259.60" y="311.10" font-size="4.6" fill="#3c4175" font-weight="normal" text-anchor="end">20</text>
<text x="249.40" y="341.60" font-size="7.6" fill="#282d6b" font-weight="bold" text-anchor="middle" transform="rotate(-90 249.40 341.60)" stroke="#282d6b" stroke-width="0.3">RQ</text>
<text x="266.60" y="313.80" font-size="9.75" fill="#282d6b" font-weight="bold" text-anchor="start" stroke="#282d6b" stroke-width="0.3">GLUT3</text>
<line x1="267.00" y1="372.80" x2="267.00" y2="374.80" stroke="#666b92" stroke-width="0.9"/>
<text x="269.30" y="382.80" font-size="8.2" fill="#282d6b" font-weight="bold" text-anchor="end" transform="rotate(-45 269.30 382.80)" stroke="#282d6b" stroke-width="0.3">MM.1S</text>
<rect x="263.50" y="369.32" width="7.00" height="3.48" fill="#222a6c"/>
<line x1="276.42" y1="372.80" x2="276.42" y2="374.80" stroke="#666b92" stroke-width="0.9"/>
<text x="278.72" y="382.80" font-size="8.2" fill="#282d6b" font-weight="bold" text-anchor="end" transform="rotate(-45 278.72 382.80)" stroke="#282d6b" stroke-width="0.3">U266</text>
<line x1="285.84" y1="372.80" x2="285.84" y2="374.80" stroke="#666b92" stroke-width="0.9"/>
<text x="288.14" y="382.80" font-size="8.2" fill="#282d6b" font-weight="bold" text-anchor="end" transform="rotate(-45 288.14 382.80)" stroke="#282d6b" stroke-width="0.3">8226</text>
<rect x="282.34" y="366.15" width="7.00" height="6.65" fill="#3658ae"/>
<line x1="285.84" y1="364.25" x2="285.84" y2="366.15" stroke="#3658ae" stroke-width="1.2"/>
<line x1="283.54" y1="364.25" x2="288.14" y2="364.25" stroke="#3658ae" stroke-width="1.2"/>
<line x1="295.26" y1="372.80" x2="295.26" y2="374.80" stroke="#666b92" stroke-width="0.9"/>
<text x="297.56" y="382.80" font-size="8.2" fill="#282d6b" font-weight="bold" text-anchor="end" transform="rotate(-45 297.56 382.80)" stroke="#282d6b" stroke-width="0.3">JJN3</text>
<line x1="304.68" y1="372.80" x2="304.68" y2="374.80" stroke="#666b92" stroke-width="0.9"/>
<text x="306.98" y="382.80" font-size="8.2" fill="#282d6b" font-weight="bold" text-anchor="end" transform="rotate(-45 306.98 382.80)" stroke="#282d6b" stroke-width="0.3">KMS11</text>
<rect x="301.18" y="369.00" width="7.00" height="3.80" fill="#5b8fd4"/>
<line x1="314.10" y1="372.80" x2="314.10" y2="374.80" stroke="#666b92" stroke-width="0.9"/>
<text x="316.40" y="382.80" font-size="8.2" fill="#282d6b" font-weight="bold" text-anchor="end" transform="rotate(-45 316.40 382.80)" stroke="#282d6b" stroke-width="0.3">INA6</text>
<rect x="310.60" y="363.94" width="7.00" height="8.86" fill="#93bbe7"/>
<line x1="323.52" y1="372.80" x2="323.52" y2="374.80" stroke="#666b92" stroke-width="0.9"/>
<text x="325.82" y="382.80" font-size="8.2" fill="#282d6b" font-weight="bold" text-anchor="end" transform="rotate(-45 325.82 382.80)" stroke="#282d6b" stroke-width="0.3">L363</text>
<line x1="332.94" y1="372.80" x2="332.94" y2="374.80" stroke="#666b92" stroke-width="0.9"/>
<text x="335.24" y="382.80" font-size="8.2" fill="#282d6b" font-weight="bold" text-anchor="end" transform="rotate(-45 335.24 382.80)" stroke="#282d6b" stroke-width="0.3">OCIMY1</text>
<rect x="329.44" y="366.47" width="7.00" height="6.33" fill="#2e4ca0"/>
<line x1="342.36" y1="372.80" x2="342.36" y2="374.80" stroke="#666b92" stroke-width="0.9"/>
<text x="344.66" y="382.80" font-size="8.2" fill="#282d6b" font-weight="bold" text-anchor="end" transform="rotate(-45 344.66 382.80)" stroke="#282d6b" stroke-width="0.3">H929</text>
<line x1="351.78" y1="372.80" x2="351.78" y2="374.80" stroke="#666b92" stroke-width="0.9"/>
<text x="354.08" y="382.80" font-size="8.2" fill="#282d6b" font-weight="bold" text-anchor="end" transform="rotate(-45 354.08 382.80)" stroke="#282d6b" stroke-width="0.3">NBL</text>
<rect x="348.28" y="337.99" width="7.00" height="34.81" fill="#e02030"/>
<line x1="351.78" y1="325.32" x2="351.78" y2="337.99" stroke="#e02030" stroke-width="1.2"/>
<line x1="349.48" y1="325.32" x2="354.08" y2="325.32" stroke="#e02030" stroke-width="1.2"/>
<line x1="379.50" y1="310.00" x2="379.50" y2="339.70" stroke="#666b92" stroke-width="1.1"/>
<line x1="379.50" y1="343.70" x2="379.50" y2="373.20" stroke="#666b92" stroke-width="1.1"/>
<line x1="379.00" y1="372.70" x2="473.96" y2="372.70" stroke="#666b92" stroke-width="1.1"/>
<line x1="377.30" y1="372.70" x2="379.50" y2="372.70" stroke="#666b92" stroke-width="0.9"/>
<text x="377.10" y="374.30" font-size="4.6" fill="#3c4175" font-weight="normal" text-anchor="end">0</text>
<line x1="377.30" y1="365.50" x2="379.50" y2="365.50" stroke="#666b92" stroke-width="0.9"/>
<text x="377.10" y="367.10" font-size="4.6" fill="#3c4175" font-weight="normal" text-anchor="end">1</text>
<line x1="377.30" y1="358.30" x2="379.50" y2="358.30" stroke="#666b92" stroke-width="0.9"/>
<text x="377.10" y="359.90" font-size="4.6" fill="#3c4175" font-weight="normal" text-anchor="end">2</text>
<line x1="377.30" y1="351.10" x2="379.50" y2="351.10" stroke="#666b92" stroke-width="0.9"/>
<text x="377.10" y="352.70" font-size="4.6" fill="#3c4175" font-weight="normal" text-anchor="end">3</text>
<line x1="377.30" y1="343.90" x2="379.50" y2="343.90" stroke="#666b92" stroke-width="0.9"/>
<text x="377.10" y="345.50" font-size="4.6" fill="#3c4175" font-weight="normal" text-anchor="end">4</text>
<line x1="377.30" y1="339.60" x2="379.50" y2="339.60" stroke="#666b92" stroke-width="0.9"/>
<text x="377.10" y="341.20" font-size="4.6" fill="#3c4175" font-weight="normal" text-anchor="end">10</text>
<line x1="377.30" y1="329.93" x2="379.50" y2="329.93" stroke="#666b92" stroke-width="0.9"/>
<text x="377.10" y="331.53" font-size="4.6" fill="#3c4175" font-weight="normal" text-anchor="end">20</text>
<line x1="377.30" y1="320.27" x2="379.50" y2="320.27" stroke="#666b92" stroke-width="0.9"/>
<text x="377.10" y="321.87" font-size="4.6" fill="#3c4175" font-weight="normal" text-anchor="end">30</text>
<line x1="377.30" y1="310.60" x2="379.50" y2="310.60" stroke="#666b92" stroke-width="0.9"/>
<text x="377.10" y="312.20" font-size="4.6" fill="#3c4175" font-weight="normal" text-anchor="end">40</text>
<text x="367.70" y="341.50" font-size="7.6" fill="#282d6b" font-weight="bold" text-anchor="middle" transform="rotate(-90 367.70 341.50)" stroke="#282d6b" stroke-width="0.3">RQ</text>
<text x="385.60" y="314.30" font-size="9.75" fill="#282d6b" font-weight="bold" text-anchor="start" stroke="#282d6b" stroke-width="0.3">GLUT4</text>
<line x1="383.90" y1="372.70" x2="383.90" y2="374.70" stroke="#666b92" stroke-width="0.9"/>
<text x="386.20" y="382.70" font-size="8.2" fill="#282d6b" font-weight="bold" text-anchor="end" transform="rotate(-45 386.20 382.70)" stroke="#282d6b" stroke-width="0.3">MM.1S</text>
<rect x="380.40" y="365.50" width="7.00" height="7.20" fill="#222a6c"/>
<line x1="393.24" y1="372.70" x2="393.24" y2="374.70" stroke="#666b92" stroke-width="0.9"/>
<text x="395.54" y="382.70" font-size="8.2" fill="#282d6b" font-weight="bold" text-anchor="end" transform="rotate(-45 395.54 382.70)" stroke="#282d6b" stroke-width="0.3">U266</text>
<rect x="389.74" y="364.06" width="7.00" height="8.64" fill="#2b42a0"/>
<line x1="402.58" y1="372.70" x2="402.58" y2="374.70" stroke="#666b92" stroke-width="0.9"/>
<text x="404.88" y="382.70" font-size="8.2" fill="#282d6b" font-weight="bold" text-anchor="end" transform="rotate(-45 404.88 382.70)" stroke="#282d6b" stroke-width="0.3">8226</text>
<rect x="399.08" y="327.03" width="7.00" height="45.67" fill="#3658ae"/>
<line x1="402.58" y1="323.17" x2="402.58" y2="327.03" stroke="#3658ae" stroke-width="1.2"/>
<line x1="400.28" y1="323.17" x2="404.88" y2="323.17" stroke="#3658ae" stroke-width="1.2"/>
<rect x="398.58" y="339.90" width="8.00" height="3.60" fill="#ffffff"/>
<line x1="411.92" y1="372.70" x2="411.92" y2="374.70" stroke="#666b92" stroke-width="0.9"/>
<text x="414.22" y="382.70" font-size="8.2" fill="#282d6b" font-weight="bold" text-anchor="end" transform="rotate(-45 414.22 382.70)" stroke="#282d6b" stroke-width="0.3">JJN3</text>
<rect x="408.42" y="366.94" width="7.00" height="5.76" fill="#5260ae"/>
<line x1="421.26" y1="372.70" x2="421.26" y2="374.70" stroke="#666b92" stroke-width="0.9"/>
<text x="423.56" y="382.70" font-size="8.2" fill="#282d6b" font-weight="bold" text-anchor="end" transform="rotate(-45 423.56 382.70)" stroke="#282d6b" stroke-width="0.3">KMS11</text>
<rect x="417.76" y="363.34" width="7.00" height="9.36" fill="#5b8fd4"/>
<line x1="430.60" y1="372.70" x2="430.60" y2="374.70" stroke="#666b92" stroke-width="0.9"/>
<text x="432.90" y="382.70" font-size="8.2" fill="#282d6b" font-weight="bold" text-anchor="end" transform="rotate(-45 432.90 382.70)" stroke="#282d6b" stroke-width="0.3">INA6</text>
<rect x="427.10" y="351.10" width="7.00" height="21.60" fill="#93bbe7"/>
<line x1="430.60" y1="345.70" x2="430.60" y2="351.10" stroke="#93bbe7" stroke-width="1.2"/>
<line x1="428.30" y1="345.70" x2="432.90" y2="345.70" stroke="#93bbe7" stroke-width="1.2"/>
<line x1="439.94" y1="372.70" x2="439.94" y2="374.70" stroke="#666b92" stroke-width="0.9"/>
<text x="442.24" y="382.70" font-size="8.2" fill="#282d6b" font-weight="bold" text-anchor="end" transform="rotate(-45 442.24 382.70)" stroke="#282d6b" stroke-width="0.3">L363</text>
<rect x="436.44" y="325.10" width="7.00" height="47.60" fill="#cfe1f5"/>
<line x1="439.94" y1="320.27" x2="439.94" y2="325.10" stroke="#cfe1f5" stroke-width="1.2"/>
<line x1="437.64" y1="320.27" x2="442.24" y2="320.27" stroke="#cfe1f5" stroke-width="1.2"/>
<rect x="435.94" y="339.90" width="8.00" height="3.60" fill="#ffffff"/>
<line x1="449.28" y1="372.70" x2="449.28" y2="374.70" stroke="#666b92" stroke-width="0.9"/>
<text x="451.58" y="382.70" font-size="8.2" fill="#282d6b" font-weight="bold" text-anchor="end" transform="rotate(-45 451.58 382.70)" stroke="#282d6b" stroke-width="0.3">OCIMY1</text>
<rect x="445.78" y="357.58" width="7.00" height="15.12" fill="#2e4ca0"/>
<line x1="449.28" y1="349.66" x2="449.28" y2="357.58" stroke="#2e4ca0" stroke-width="1.2"/>
<line x1="446.98" y1="349.66" x2="451.58" y2="349.66" stroke="#2e4ca0" stroke-width="1.2"/>
<line x1="458.62" y1="372.70" x2="458.62" y2="374.70" stroke="#666b92" stroke-width="0.9"/>
<text x="460.92" y="382.70" font-size="8.2" fill="#282d6b" font-weight="bold" text-anchor="end" transform="rotate(-45 460.92 382.70)" stroke="#282d6b" stroke-width="0.3">H929</text>
<rect x="455.12" y="335.25" width="7.00" height="37.45" fill="#5560ad"/>
<line x1="458.62" y1="333.80" x2="458.62" y2="335.25" stroke="#5560ad" stroke-width="1.2"/>
<line x1="456.32" y1="333.80" x2="460.92" y2="333.80" stroke="#5560ad" stroke-width="1.2"/>
<rect x="454.62" y="339.90" width="8.00" height="3.60" fill="#ffffff"/>
<line x1="467.96" y1="372.70" x2="467.96" y2="374.70" stroke="#666b92" stroke-width="0.9"/>
<text x="470.26" y="382.70" font-size="8.2" fill="#282d6b" font-weight="bold" text-anchor="end" transform="rotate(-45 470.26 382.70)" stroke="#282d6b" stroke-width="0.3">NBL</text>
<path d="M464.16,372.70 Q464.16,372.27 467.96,372.27 Q471.76,372.27 471.76,372.70 Z" fill="#e02030"/>
<line x1="19.50" y1="409.50" x2="19.50" y2="471.90" stroke="#666b92" stroke-width="1.1"/>
<line x1="19.00" y1="471.40" x2="114.50" y2="471.40" stroke="#666b92" stroke-width="1.1"/>
<line x1="17.30" y1="471.40" x2="19.50" y2="471.40" stroke="#666b92" stroke-width="0.9"/>
<text x="17.10" y="473.00" font-size="4.6" fill="#3c4175" font-weight="normal" text-anchor="end">0</text>
<line x1="17.30" y1="456.17" x2="19.50" y2="456.17" stroke="#666b92" stroke-width="0.9"/>
<text x="17.10" y="457.77" font-size="4.6" fill="#3c4175" font-weight="normal" text-anchor="end">200</text>
<line x1="17.30" y1="440.95" x2="19.50" y2="440.95" stroke="#666b92" stroke-width="0.9"/>
<text x="17.10" y="442.55" font-size="4.6" fill="#3c4175" font-weight="normal" text-anchor="end">400</text>
<line x1="17.30" y1="425.73" x2="19.50" y2="425.73" stroke="#666b92" stroke-width="0.9"/>
<text x="17.10" y="427.33" font-size="4.6" fill="#3c4175" font-weight="normal" text-anchor="end">600</text>
<line x1="17.30" y1="410.50" x2="19.50" y2="410.50" stroke="#666b92" stroke-width="0.9"/>
<text x="17.10" y="412.10" font-size="4.6" fill="#3c4175" font-weight="normal" text-anchor="end">800</text>
<text x="6.40" y="442.50" font-size="7.6" fill="#282d6b" font-weight="bold" text-anchor="middle" transform="rotate(-90 6.40 442.50)" stroke="#282d6b" stroke-width="0.3">RQ</text>
<text x="24.60" y="414.50" font-size="9.75" fill="#282d6b" font-weight="bold" text-anchor="start" stroke="#282d6b" stroke-width="0.3">GLUT5</text>
<line x1="24.80" y1="471.40" x2="24.80" y2="473.40" stroke="#666b92" stroke-width="0.9"/>
<text x="27.10" y="481.40" font-size="8.2" fill="#282d6b" font-weight="bold" text-anchor="end" transform="rotate(-45 27.10 481.40)" stroke="#282d6b" stroke-width="0.3">MM.1S</text>
<line x1="34.10" y1="471.40" x2="34.10" y2="473.40" stroke="#666b92" stroke-width="0.9"/>
<text x="36.40" y="481.40" font-size="8.2" fill="#282d6b" font-weight="bold" text-anchor="end" transform="rotate(-45 36.40 481.40)" stroke="#282d6b" stroke-width="0.3">U266</text>
<rect x="30.60" y="471.02" width="7.00" height="0.38" fill="#2b42a0"/>
<line x1="43.40" y1="471.40" x2="43.40" y2="473.40" stroke="#666b92" stroke-width="0.9"/>
<text x="45.70" y="481.40" font-size="8.2" fill="#282d6b" font-weight="bold" text-anchor="end" transform="rotate(-45 45.70 481.40)" stroke="#282d6b" stroke-width="0.3">8226</text>
<rect x="39.90" y="469.12" width="7.00" height="2.28" fill="#3658ae"/>
<line x1="52.70" y1="471.40" x2="52.70" y2="473.40" stroke="#666b92" stroke-width="0.9"/>
<text x="55.00" y="481.40" font-size="8.2" fill="#282d6b" font-weight="bold" text-anchor="end" transform="rotate(-45 55.00 481.40)" stroke="#282d6b" stroke-width="0.3">JJN3</text>
<line x1="62.00" y1="471.40" x2="62.00" y2="473.40" stroke="#666b92" stroke-width="0.9"/>
<text x="64.30" y="481.40" font-size="8.2" fill="#282d6b" font-weight="bold" text-anchor="end" transform="rotate(-45 64.30 481.40)" stroke="#282d6b" stroke-width="0.3">KMS11</text>
<line x1="71.30" y1="471.40" x2="71.30" y2="473.40" stroke="#666b92" stroke-width="0.9"/>
<text x="73.60" y="481.40" font-size="8.2" fill="#282d6b" font-weight="bold" text-anchor="end" transform="rotate(-45 73.60 481.40)" stroke="#282d6b" stroke-width="0.3">INA6</text>
<rect x="67.80" y="463.79" width="7.00" height="7.61" fill="#93bbe7"/>
<line x1="80.60" y1="471.40" x2="80.60" y2="473.40" stroke="#666b92" stroke-width="0.9"/>
<text x="82.90" y="481.40" font-size="8.2" fill="#282d6b" font-weight="bold" text-anchor="end" transform="rotate(-45 82.90 481.40)" stroke="#282d6b" stroke-width="0.3">L363</text>
<line x1="89.90" y1="471.40" x2="89.90" y2="473.40" stroke="#666b92" stroke-width="0.9"/>
<text x="92.20" y="481.40" font-size="8.2" fill="#282d6b" font-weight="bold" text-anchor="end" transform="rotate(-45 92.20 481.40)" stroke="#282d6b" stroke-width="0.3">OCIMY1</text>
<line x1="99.20" y1="471.40" x2="99.20" y2="473.40" stroke="#666b92" stroke-width="0.9"/>
<text x="101.50" y="481.40" font-size="8.2" fill="#282d6b" font-weight="bold" text-anchor="end" transform="rotate(-45 101.50 481.40)" stroke="#282d6b" stroke-width="0.3">H929</text>
<rect x="95.70" y="433.34" width="7.00" height="38.06" fill="#5560ad"/>
<line x1="99.20" y1="423.82" x2="99.20" y2="433.34" stroke="#5560ad" stroke-width="1.2"/>
<line x1="96.90" y1="423.82" x2="101.50" y2="423.82" stroke="#5560ad" stroke-width="1.2"/>
<line x1="108.50" y1="471.40" x2="108.50" y2="473.40" stroke="#666b92" stroke-width="0.9"/>
<text x="110.80" y="481.40" font-size="8.2" fill="#282d6b" font-weight="bold" text-anchor="end" transform="rotate(-45 110.80 481.40)" stroke="#282d6b" stroke-width="0.3">NBL</text>
<path d="M104.70,471.40 Q104.70,467.59 108.50,467.59 Q112.30,467.59 112.30,471.40 Z" fill="#e02030"/>
<line x1="108.50" y1="466.07" x2="108.50" y2="467.59" stroke="#e02030" stroke-width="1.2"/>
<line x1="106.20" y1="466.07" x2="110.80" y2="466.07" stroke="#e02030" stroke-width="1.2"/>
<line x1="137.00" y1="407.50" x2="137.00" y2="471.90" stroke="#666b92" stroke-width="1.1"/>
<line x1="136.50" y1="471.40" x2="234.53" y2="471.40" stroke="#666b92" stroke-width="1.1"/>
<line x1="134.80" y1="471.40" x2="137.00" y2="471.40" stroke="#666b92" stroke-width="0.9"/>
<text x="134.60" y="473.00" font-size="4.6" fill="#3c4175" font-weight="normal" text-anchor="end">0</text>
<line x1="134.80" y1="455.55" x2="137.00" y2="455.55" stroke="#666b92" stroke-width="0.9"/>
<text x="134.60" y="457.15" font-size="4.6" fill="#3c4175" font-weight="normal" text-anchor="end">5</text>
<line x1="134.80" y1="439.70" x2="137.00" y2="439.70" stroke="#666b92" stroke-width="0.9"/>
<text x="134.60" y="441.30" font-size="4.6" fill="#3c4175" font-weight="normal" text-anchor="end">10</text>
<line x1="134.80" y1="423.85" x2="137.00" y2="423.85" stroke="#666b92" stroke-width="0.9"/>
<text x="134.60" y="425.45" font-size="4.6" fill="#3c4175" font-weight="normal" text-anchor="end">15</text>
<line x1="134.80" y1="408.00" x2="137.00" y2="408.00" stroke="#666b92" stroke-width="0.9"/>
<text x="134.60" y="409.60" font-size="4.6" fill="#3c4175" font-weight="normal" text-anchor="end">20</text>
<text x="125.90" y="440.00" font-size="7.6" fill="#282d6b" font-weight="bold" text-anchor="middle" transform="rotate(-90 125.90 440.00)" stroke="#282d6b" stroke-width="0.3">RQ</text>
<text x="140.10" y="411.80" font-size="9.75" fill="#282d6b" font-weight="bold" text-anchor="start" stroke="#282d6b" stroke-width="0.3">GLUT6</text>
<line x1="142.40" y1="471.40" x2="142.40" y2="473.40" stroke="#666b92" stroke-width="0.9"/>
<text x="144.70" y="481.40" font-size="8.2" fill="#282d6b" font-weight="bold" text-anchor="end" transform="rotate(-45 144.70 481.40)" stroke="#282d6b" stroke-width="0.3">MM.1S</text>
<rect x="138.90" y="467.91" width="7.00" height="3.49" fill="#222a6c"/>
<line x1="151.97" y1="471.40" x2="151.97" y2="473.40" stroke="#666b92" stroke-width="0.9"/>
<text x="154.27" y="481.40" font-size="8.2" fill="#282d6b" font-weight="bold" text-anchor="end" transform="rotate(-45 154.27 481.40)" stroke="#282d6b" stroke-width="0.3">U266</text>
<rect x="148.47" y="467.28" width="7.00" height="4.12" fill="#2b42a0"/>
<line x1="161.54" y1="471.40" x2="161.54" y2="473.40" stroke="#666b92" stroke-width="0.9"/>
<text x="163.84" y="481.40" font-size="8.2" fill="#282d6b" font-weight="bold" text-anchor="end" transform="rotate(-45 163.84 481.40)" stroke="#282d6b" stroke-width="0.3">8226</text>
<rect x="158.04" y="427.97" width="7.00" height="43.43" fill="#3658ae"/>
<line x1="161.54" y1="415.29" x2="161.54" y2="427.97" stroke="#3658ae" stroke-width="1.2"/>
<line x1="159.24" y1="415.29" x2="163.84" y2="415.29" stroke="#3658ae" stroke-width="1.2"/>
<line x1="171.11" y1="471.40" x2="171.11" y2="473.40" stroke="#666b92" stroke-width="0.9"/>
<text x="173.41" y="481.40" font-size="8.2" fill="#282d6b" font-weight="bold" text-anchor="end" transform="rotate(-45 173.41 481.40)" stroke="#282d6b" stroke-width="0.3">JJN3</text>
<line x1="180.68" y1="471.40" x2="180.68" y2="473.40" stroke="#666b92" stroke-width="0.9"/>
<text x="182.98" y="481.40" font-size="8.2" fill="#282d6b" font-weight="bold" text-anchor="end" transform="rotate(-45 182.98 481.40)" stroke="#282d6b" stroke-width="0.3">KMS11</text>
<rect x="177.18" y="463.47" width="7.00" height="7.93" fill="#5b8fd4"/>
<line x1="180.68" y1="461.89" x2="180.68" y2="463.47" stroke="#5b8fd4" stroke-width="1.2"/>
<line x1="178.38" y1="461.89" x2="182.98" y2="461.89" stroke="#5b8fd4" stroke-width="1.2"/>
<line x1="190.25" y1="471.40" x2="190.25" y2="473.40" stroke="#666b92" stroke-width="0.9"/>
<text x="192.55" y="481.40" font-size="8.2" fill="#282d6b" font-weight="bold" text-anchor="end" transform="rotate(-45 192.55 481.40)" stroke="#282d6b" stroke-width="0.3">INA6</text>
<rect x="186.75" y="471.08" width="7.00" height="0.32" fill="#93bbe7"/>
<line x1="199.82" y1="471.40" x2="199.82" y2="473.40" stroke="#666b92" stroke-width="0.9"/>
<text x="202.12" y="481.40" font-size="8.2" fill="#282d6b" font-weight="bold" text-anchor="end" transform="rotate(-45 202.12 481.40)" stroke="#282d6b" stroke-width="0.3">L363</text>
<rect x="196.32" y="450.79" width="7.00" height="20.61" fill="#cfe1f5"/>
<line x1="199.82" y1="446.04" x2="199.82" y2="450.79" stroke="#cfe1f5" stroke-width="1.2"/>
<line x1="197.52" y1="446.04" x2="202.12" y2="446.04" stroke="#cfe1f5" stroke-width="1.2"/>
<line x1="209.39" y1="471.40" x2="209.39" y2="473.40" stroke="#666b92" stroke-width="0.9"/>
<text x="211.69" y="481.40" font-size="8.2" fill="#282d6b" font-weight="bold" text-anchor="end" transform="rotate(-45 211.69 481.40)" stroke="#282d6b" stroke-width="0.3">OCIMY1</text>
<rect x="205.89" y="466.64" width="7.00" height="4.75" fill="#2e4ca0"/>
<line x1="209.39" y1="465.69" x2="209.39" y2="466.64" stroke="#2e4ca0" stroke-width="1.2"/>
<line x1="207.09" y1="465.69" x2="211.69" y2="465.69" stroke="#2e4ca0" stroke-width="1.2"/>
<line x1="218.96" y1="471.40" x2="218.96" y2="473.40" stroke="#666b92" stroke-width="0.9"/>
<text x="221.26" y="481.40" font-size="8.2" fill="#282d6b" font-weight="bold" text-anchor="end" transform="rotate(-45 221.26 481.40)" stroke="#282d6b" stroke-width="0.3">H929</text>
<rect x="215.46" y="463.16" width="7.00" height="8.24" fill="#5560ad"/>
<line x1="218.96" y1="460.94" x2="218.96" y2="463.16" stroke="#5560ad" stroke-width="1.2"/>
<line x1="216.66" y1="460.94" x2="221.26" y2="460.94" stroke="#5560ad" stroke-width="1.2"/>
<line x1="228.53" y1="471.40" x2="228.53" y2="473.40" stroke="#666b92" stroke-width="0.9"/>
<text x="230.83" y="481.40" font-size="8.2" fill="#282d6b" font-weight="bold" text-anchor="end" transform="rotate(-45 230.83 481.40)" stroke="#282d6b" stroke-width="0.3">NBL</text>
<rect x="225.03" y="460.94" width="7.00" height="10.46" fill="#e02030"/>
<line x1="261.00" y1="407.50" x2="261.00" y2="472.00" stroke="#666b92" stroke-width="1.1"/>
<line x1="260.50" y1="471.50" x2="358.70" y2="471.50" stroke="#666b92" stroke-width="1.1"/>
<line x1="258.80" y1="471.50" x2="261.00" y2="471.50" stroke="#666b92" stroke-width="0.9"/>
<text x="258.60" y="473.10" font-size="4.6" fill="#3c4175" font-weight="normal" text-anchor="end">0</text>
<line x1="258.80" y1="450.33" x2="261.00" y2="450.33" stroke="#666b92" stroke-width="0.9"/>
<text x="258.60" y="451.93" font-size="4.6" fill="#3c4175" font-weight="normal" text-anchor="end">5000</text>
<line x1="258.80" y1="429.17" x2="261.00" y2="429.17" stroke="#666b92" stroke-width="0.9"/>
<text x="258.60" y="430.77" font-size="4.6" fill="#3c4175" font-weight="normal" text-anchor="end">10000</text>
<line x1="258.80" y1="408.00" x2="261.00" y2="408.00" stroke="#666b92" stroke-width="0.9"/>
<text x="258.60" y="409.60" font-size="4.6" fill="#3c4175" font-weight="normal" text-anchor="end">15000</text>
<text x="242.00" y="432.80" font-size="7.6" fill="#282d6b" font-weight="bold" text-anchor="middle" transform="rotate(-90 242.00 432.80)" stroke="#282d6b" stroke-width="0.3">RQ</text>
<text x="266.60" y="411.80" font-size="9.75" fill="#282d6b" font-weight="bold" text-anchor="start" stroke="#282d6b" stroke-width="0.3">GLUT7</text>
<line x1="266.30" y1="471.50" x2="266.30" y2="473.50" stroke="#666b92" stroke-width="0.9"/>
<text x="268.60" y="481.50" font-size="8.2" fill="#282d6b" font-weight="bold" text-anchor="end" transform="rotate(-45 268.60 481.50)" stroke="#282d6b" stroke-width="0.3">MM.1S</text>
<line x1="275.90" y1="471.50" x2="275.90" y2="473.50" stroke="#666b92" stroke-width="0.9"/>
<text x="278.20" y="481.50" font-size="8.2" fill="#282d6b" font-weight="bold" text-anchor="end" transform="rotate(-45 278.20 481.50)" stroke="#282d6b" stroke-width="0.3">U266</text>
<rect x="272.40" y="432.13" width="7.00" height="39.37" fill="#2b42a0"/>
<line x1="275.90" y1="427.90" x2="275.90" y2="432.13" stroke="#2b42a0" stroke-width="1.2"/>
<line x1="273.60" y1="427.90" x2="278.20" y2="427.90" stroke="#2b42a0" stroke-width="1.2"/>
<line x1="285.50" y1="471.50" x2="285.50" y2="473.50" stroke="#666b92" stroke-width="0.9"/>
<text x="287.80" y="481.50" font-size="8.2" fill="#282d6b" font-weight="bold" text-anchor="end" transform="rotate(-45 287.80 481.50)" stroke="#282d6b" stroke-width="0.3">8226</text>
<rect x="282.00" y="468.11" width="7.00" height="3.39" fill="#3658ae"/>
<line x1="285.50" y1="464.73" x2="285.50" y2="468.11" stroke="#3658ae" stroke-width="1.2"/>
<line x1="283.20" y1="464.73" x2="287.80" y2="464.73" stroke="#3658ae" stroke-width="1.2"/>
<line x1="295.10" y1="471.50" x2="295.10" y2="473.50" stroke="#666b92" stroke-width="0.9"/>
<text x="297.40" y="481.50" font-size="8.2" fill="#282d6b" font-weight="bold" text-anchor="end" transform="rotate(-45 297.40 481.50)" stroke="#282d6b" stroke-width="0.3">JJN3</text>
<line x1="304.70" y1="471.50" x2="304.70" y2="473.50" stroke="#666b92" stroke-width="0.9"/>
<text x="307.00" y="481.50" font-size="8.2" fill="#282d6b" font-weight="bold" text-anchor="end" transform="rotate(-45 307.00 481.50)" stroke="#282d6b" stroke-width="0.3">KMS11</text>
<line x1="314.30" y1="471.50" x2="314.30" y2="473.50" stroke="#666b92" stroke-width="0.9"/>
<text x="316.60" y="481.50" font-size="8.2" fill="#282d6b" font-weight="bold" text-anchor="end" transform="rotate(-45 316.60 481.50)" stroke="#282d6b" stroke-width="0.3">INA6</text>
<rect x="310.80" y="468.11" width="7.00" height="3.39" fill="#93bbe7"/>
<line x1="314.30" y1="464.73" x2="314.30" y2="468.11" stroke="#93bbe7" stroke-width="1.2"/>
<line x1="312.00" y1="464.73" x2="316.60" y2="464.73" stroke="#93bbe7" stroke-width="1.2"/>
<line x1="323.90" y1="471.50" x2="323.90" y2="473.50" stroke="#666b92" stroke-width="0.9"/>
<text x="326.20" y="481.50" font-size="8.2" fill="#282d6b" font-weight="bold" text-anchor="end" transform="rotate(-45 326.20 481.50)" stroke="#282d6b" stroke-width="0.3">L363</text>
<line x1="333.50" y1="471.50" x2="333.50" y2="473.50" stroke="#666b92" stroke-width="0.9"/>
<text x="335.80" y="481.50" font-size="8.2" fill="#282d6b" font-weight="bold" text-anchor="end" transform="rotate(-45 335.80 481.50)" stroke="#282d6b" stroke-width="0.3">OCIMY1</text>
<line x1="343.10" y1="471.50" x2="343.10" y2="473.50" stroke="#666b92" stroke-width="0.9"/>
<text x="345.40" y="481.50" font-size="8.2" fill="#282d6b" font-weight="bold" text-anchor="end" transform="rotate(-45 345.40 481.50)" stroke="#282d6b" stroke-width="0.3">H929</text>
<line x1="352.70" y1="471.50" x2="352.70" y2="473.50" stroke="#666b92" stroke-width="0.9"/>
<text x="355.00" y="481.50" font-size="8.2" fill="#282d6b" font-weight="bold" text-anchor="end" transform="rotate(-45 355.00 481.50)" stroke="#282d6b" stroke-width="0.3">NBL</text>
<line x1="379.50" y1="408.50" x2="379.50" y2="472.30" stroke="#666b92" stroke-width="1.1"/>
<line x1="379.00" y1="471.80" x2="475.08" y2="471.80" stroke="#666b92" stroke-width="1.1"/>
<line x1="377.30" y1="471.80" x2="379.50" y2="471.80" stroke="#666b92" stroke-width="0.9"/>
<text x="377.10" y="473.40" font-size="4.6" fill="#3c4175" font-weight="normal" text-anchor="end">0</text>
<line x1="377.30" y1="456.04" x2="379.50" y2="456.04" stroke="#666b92" stroke-width="0.9"/>
<text x="377.10" y="457.64" font-size="4.6" fill="#3c4175" font-weight="normal" text-anchor="end">1</text>
<line x1="377.30" y1="440.27" x2="379.50" y2="440.27" stroke="#666b92" stroke-width="0.9"/>
<text x="377.10" y="441.88" font-size="4.6" fill="#3c4175" font-weight="normal" text-anchor="end">2</text>
<line x1="377.30" y1="424.51" x2="379.50" y2="424.51" stroke="#666b92" stroke-width="0.9"/>
<text x="377.10" y="426.11" font-size="4.6" fill="#3c4175" font-weight="normal" text-anchor="end">3</text>
<line x1="377.30" y1="408.75" x2="379.50" y2="408.75" stroke="#666b92" stroke-width="0.9"/>
<text x="377.10" y="410.35" font-size="4.6" fill="#3c4175" font-weight="normal" text-anchor="end">4</text>
<text x="369.90" y="441.80" font-size="7.6" fill="#282d6b" font-weight="bold" text-anchor="middle" transform="rotate(-90 369.90 441.80)" stroke="#282d6b" stroke-width="0.3">RQ</text>
<text x="383.35" y="413.00" font-size="9.75" fill="#282d6b" font-weight="bold" text-anchor="start" stroke="#282d6b" stroke-width="0.3">GLUT8</text>
<line x1="384.30" y1="471.80" x2="384.30" y2="473.80" stroke="#666b92" stroke-width="0.9"/>
<text x="386.60" y="481.80" font-size="8.2" fill="#282d6b" font-weight="bold" text-anchor="end" transform="rotate(-45 386.60 481.80)" stroke="#282d6b" stroke-width="0.3">MM.1S</text>
<rect x="380.80" y="456.04" width="7.00" height="15.76" fill="#222a6c"/>
<line x1="393.72" y1="471.80" x2="393.72" y2="473.80" stroke="#666b92" stroke-width="0.9"/>
<text x="396.02" y="481.80" font-size="8.2" fill="#282d6b" font-weight="bold" text-anchor="end" transform="rotate(-45 396.02 481.80)" stroke="#282d6b" stroke-width="0.3">U266</text>
<rect x="390.22" y="436.33" width="7.00" height="35.47" fill="#2b42a0"/>
<line x1="393.72" y1="427.67" x2="393.72" y2="436.33" stroke="#2b42a0" stroke-width="1.2"/>
<line x1="391.42" y1="427.67" x2="396.02" y2="427.67" stroke="#2b42a0" stroke-width="1.2"/>
<line x1="403.14" y1="471.80" x2="403.14" y2="473.80" stroke="#666b92" stroke-width="0.9"/>
<text x="405.44" y="481.80" font-size="8.2" fill="#282d6b" font-weight="bold" text-anchor="end" transform="rotate(-45 405.44 481.80)" stroke="#282d6b" stroke-width="0.3">8226</text>
<rect x="399.64" y="454.93" width="7.00" height="16.87" fill="#3658ae"/>
<line x1="403.14" y1="449.73" x2="403.14" y2="454.93" stroke="#3658ae" stroke-width="1.2"/>
<line x1="400.84" y1="449.73" x2="405.44" y2="449.73" stroke="#3658ae" stroke-width="1.2"/>
<line x1="412.56" y1="471.80" x2="412.56" y2="473.80" stroke="#666b92" stroke-width="0.9"/>
<text x="414.86" y="481.80" font-size="8.2" fill="#282d6b" font-weight="bold" text-anchor="end" transform="rotate(-45 414.86 481.80)" stroke="#282d6b" stroke-width="0.3">JJN3</text>
<rect x="409.06" y="458.72" width="7.00" height="13.08" fill="#5260ae"/>
<line x1="412.56" y1="457.61" x2="412.56" y2="458.72" stroke="#5260ae" stroke-width="1.2"/>
<line x1="410.26" y1="457.61" x2="414.86" y2="457.61" stroke="#5260ae" stroke-width="1.2"/>
<line x1="421.98" y1="471.80" x2="421.98" y2="473.80" stroke="#666b92" stroke-width="0.9"/>
<text x="424.28" y="481.80" font-size="8.2" fill="#282d6b" font-weight="bold" text-anchor="end" transform="rotate(-45 424.28 481.80)" stroke="#282d6b" stroke-width="0.3">KMS11</text>
<rect x="418.48" y="426.09" width="7.00" height="45.71" fill="#5b8fd4"/>
<line x1="421.98" y1="418.21" x2="421.98" y2="426.09" stroke="#5b8fd4" stroke-width="1.2"/>
<line x1="419.68" y1="418.21" x2="424.28" y2="418.21" stroke="#5b8fd4" stroke-width="1.2"/>
<line x1="431.40" y1="471.80" x2="431.40" y2="473.80" stroke="#666b92" stroke-width="0.9"/>
<text x="433.70" y="481.80" font-size="8.2" fill="#282d6b" font-weight="bold" text-anchor="end" transform="rotate(-45 433.70 481.80)" stroke="#282d6b" stroke-width="0.3">INA6</text>
<rect x="427.90" y="456.83" width="7.00" height="14.97" fill="#93bbe7"/>
<line x1="431.40" y1="454.93" x2="431.40" y2="456.83" stroke="#93bbe7" stroke-width="1.2"/>
<line x1="429.10" y1="454.93" x2="433.70" y2="454.93" stroke="#93bbe7" stroke-width="1.2"/>
<line x1="440.82" y1="471.80" x2="440.82" y2="473.80" stroke="#666b92" stroke-width="0.9"/>
<text x="443.12" y="481.80" font-size="8.2" fill="#282d6b" font-weight="bold" text-anchor="end" transform="rotate(-45 443.12 481.80)" stroke="#282d6b" stroke-width="0.3">L363</text>
<rect x="437.32" y="452.57" width="7.00" height="19.23" fill="#cfe1f5"/>
<line x1="440.82" y1="449.73" x2="440.82" y2="452.57" stroke="#cfe1f5" stroke-width="1.2"/>
<line x1="438.52" y1="449.73" x2="443.12" y2="449.73" stroke="#cfe1f5" stroke-width="1.2"/>
<line x1="450.24" y1="471.80" x2="450.24" y2="473.80" stroke="#666b92" stroke-width="0.9"/>
<text x="452.54" y="481.80" font-size="8.2" fill="#282d6b" font-weight="bold" text-anchor="end" transform="rotate(-45 452.54 481.80)" stroke="#282d6b" stroke-width="0.3">OCIMY1</text>
<rect x="446.74" y="464.23" width="7.00" height="7.57" fill="#2e4ca0"/>
<line x1="450.24" y1="462.34" x2="450.24" y2="464.23" stroke="#2e4ca0" stroke-width="1.2"/>
<line x1="447.94" y1="462.34" x2="452.54" y2="462.34" stroke="#2e4ca0" stroke-width="1.2"/>
<line x1="459.66" y1="471.80" x2="459.66" y2="473.80" stroke="#666b92" stroke-width="0.9"/>
<text x="461.96" y="481.80" font-size="8.2" fill="#282d6b" font-weight="bold" text-anchor="end" transform="rotate(-45 461.96 481.80)" stroke="#282d6b" stroke-width="0.3">H929</text>
<rect x="456.16" y="454.46" width="7.00" height="17.34" fill="#5560ad"/>
<line x1="459.66" y1="451.78" x2="459.66" y2="454.46" stroke="#5560ad" stroke-width="1.2"/>
<line x1="457.36" y1="451.78" x2="461.96" y2="451.78" stroke="#5560ad" stroke-width="1.2"/>
<line x1="469.08" y1="471.80" x2="469.08" y2="473.80" stroke="#666b92" stroke-width="0.9"/>
<text x="471.38" y="481.80" font-size="8.2" fill="#282d6b" font-weight="bold" text-anchor="end" transform="rotate(-45 471.38 481.80)" stroke="#282d6b" stroke-width="0.3">NBL</text>
<path d="M465.28,471.80 Q465.28,468.65 469.08,468.65 Q472.88,468.65 472.88,471.80 Z" fill="#e02030"/>
<line x1="20.40" y1="507.00" x2="20.40" y2="570.70" stroke="#666b92" stroke-width="1.1"/>
<line x1="19.90" y1="570.20" x2="115.90" y2="570.20" stroke="#666b92" stroke-width="1.1"/>
<line x1="18.20" y1="570.20" x2="20.40" y2="570.20" stroke="#666b92" stroke-width="0.9"/>
<text x="18.00" y="571.80" font-size="4.6" fill="#3c4175" font-weight="normal" text-anchor="end">0.0</text>
<line x1="18.20" y1="549.30" x2="20.40" y2="549.30" stroke="#666b92" stroke-width="0.9"/>
<text x="18.00" y="550.90" font-size="4.6" fill="#3c4175" font-weight="normal" text-anchor="end">0.5</text>
<line x1="18.20" y1="528.40" x2="20.40" y2="528.40" stroke="#666b92" stroke-width="0.9"/>
<text x="18.00" y="530.00" font-size="4.6" fill="#3c4175" font-weight="normal" text-anchor="end">1.0</text>
<line x1="18.20" y1="507.50" x2="20.40" y2="507.50" stroke="#666b92" stroke-width="0.9"/>
<text x="18.00" y="509.10" font-size="4.6" fill="#3c4175" font-weight="normal" text-anchor="end">1.5</text>
<text x="6.10" y="539.10" font-size="7.6" fill="#282d6b" font-weight="bold" text-anchor="middle" transform="rotate(-90 6.10 539.10)" stroke="#282d6b" stroke-width="0.3">RQ</text>
<text x="23.10" y="511.30" font-size="9.75" fill="#282d6b" font-weight="bold" text-anchor="start" stroke="#282d6b" stroke-width="0.3">GLUT9</text>
<line x1="25.30" y1="570.20" x2="25.30" y2="572.20" stroke="#666b92" stroke-width="0.9"/>
<text x="27.60" y="580.20" font-size="8.2" fill="#282d6b" font-weight="bold" text-anchor="end" transform="rotate(-45 27.60 580.20)" stroke="#282d6b" stroke-width="0.3">MM.1S</text>
<rect x="21.80" y="528.40" width="7.00" height="41.80" fill="#222a6c"/>
<line x1="34.70" y1="570.20" x2="34.70" y2="572.20" stroke="#666b92" stroke-width="0.9"/>
<text x="37.00" y="580.20" font-size="8.2" fill="#282d6b" font-weight="bold" text-anchor="end" transform="rotate(-45 37.00 580.20)" stroke="#282d6b" stroke-width="0.3">U266</text>
<rect x="31.20" y="568.53" width="7.00" height="1.67" fill="#2b42a0"/>
<line x1="44.10" y1="570.20" x2="44.10" y2="572.20" stroke="#666b92" stroke-width="0.9"/>
<text x="46.40" y="580.20" font-size="8.2" fill="#282d6b" font-weight="bold" text-anchor="end" transform="rotate(-45 46.40 580.20)" stroke="#282d6b" stroke-width="0.3">8226</text>
<rect x="40.60" y="568.95" width="7.00" height="1.25" fill="#3658ae"/>
<line x1="53.50" y1="570.20" x2="53.50" y2="572.20" stroke="#666b92" stroke-width="0.9"/>
<text x="55.80" y="580.20" font-size="8.2" fill="#282d6b" font-weight="bold" text-anchor="end" transform="rotate(-45 55.80 580.20)" stroke="#282d6b" stroke-width="0.3">JJN3</text>
<rect x="50.00" y="568.11" width="7.00" height="2.09" fill="#5260ae"/>
<line x1="62.90" y1="570.20" x2="62.90" y2="572.20" stroke="#666b92" stroke-width="0.9"/>
<text x="65.20" y="580.20" font-size="8.2" fill="#282d6b" font-weight="bold" text-anchor="end" transform="rotate(-45 65.20 580.20)" stroke="#282d6b" stroke-width="0.3">KMS11</text>
<rect x="59.40" y="561.00" width="7.00" height="9.20" fill="#5b8fd4"/>
<line x1="62.90" y1="560.17" x2="62.90" y2="561.00" stroke="#5b8fd4" stroke-width="1.2"/>
<line x1="60.60" y1="560.17" x2="65.20" y2="560.17" stroke="#5b8fd4" stroke-width="1.2"/>
<line x1="72.30" y1="570.20" x2="72.30" y2="572.20" stroke="#666b92" stroke-width="0.9"/>
<text x="74.60" y="580.20" font-size="8.2" fill="#282d6b" font-weight="bold" text-anchor="end" transform="rotate(-45 74.60 580.20)" stroke="#282d6b" stroke-width="0.3">INA6</text>
<rect x="68.80" y="562.26" width="7.00" height="7.94" fill="#93bbe7"/>
<line x1="72.30" y1="560.17" x2="72.30" y2="562.26" stroke="#93bbe7" stroke-width="1.2"/>
<line x1="70.00" y1="560.17" x2="74.60" y2="560.17" stroke="#93bbe7" stroke-width="1.2"/>
<line x1="81.70" y1="570.20" x2="81.70" y2="572.20" stroke="#666b92" stroke-width="0.9"/>
<text x="84.00" y="580.20" font-size="8.2" fill="#282d6b" font-weight="bold" text-anchor="end" transform="rotate(-45 84.00 580.20)" stroke="#282d6b" stroke-width="0.3">L363</text>
<line x1="91.10" y1="570.20" x2="91.10" y2="572.20" stroke="#666b92" stroke-width="0.9"/>
<text x="93.40" y="580.20" font-size="8.2" fill="#282d6b" font-weight="bold" text-anchor="end" transform="rotate(-45 93.40 580.20)" stroke="#282d6b" stroke-width="0.3">OCIMY1</text>
<rect x="87.60" y="566.44" width="7.00" height="3.76" fill="#2e4ca0"/>
<line x1="100.50" y1="570.20" x2="100.50" y2="572.20" stroke="#666b92" stroke-width="0.9"/>
<text x="102.80" y="580.20" font-size="8.2" fill="#282d6b" font-weight="bold" text-anchor="end" transform="rotate(-45 102.80 580.20)" stroke="#282d6b" stroke-width="0.3">H929</text>
<rect x="97.00" y="560.59" width="7.00" height="9.61" fill="#5560ad"/>
<line x1="100.50" y1="559.33" x2="100.50" y2="560.59" stroke="#5560ad" stroke-width="1.2"/>
<line x1="98.20" y1="559.33" x2="102.80" y2="559.33" stroke="#5560ad" stroke-width="1.2"/>
<line x1="109.90" y1="570.20" x2="109.90" y2="572.20" stroke="#666b92" stroke-width="0.9"/>
<text x="112.20" y="580.20" font-size="8.2" fill="#282d6b" font-weight="bold" text-anchor="end" transform="rotate(-45 112.20 580.20)" stroke="#282d6b" stroke-width="0.3">NBL</text>
<path d="M106.10,570.20 Q106.10,566.02 109.90,566.02 Q113.70,566.02 113.70,570.20 Z" fill="#e02030"/>
<line x1="109.90" y1="565.18" x2="109.90" y2="566.02" stroke="#e02030" stroke-width="1.2"/>
<line x1="107.60" y1="565.18" x2="112.20" y2="565.18" stroke="#e02030" stroke-width="1.2"/>
<line x1="137.90" y1="507.00" x2="137.90" y2="570.70" stroke="#666b92" stroke-width="1.1"/>
<line x1="137.40" y1="570.20" x2="233.75" y2="570.20" stroke="#666b92" stroke-width="1.1"/>
<line x1="135.70" y1="570.20" x2="137.90" y2="570.20" stroke="#666b92" stroke-width="0.9"/>
<text x="135.50" y="571.80" font-size="4.6" fill="#3c4175" font-weight="normal" text-anchor="end">0.0</text>
<line x1="135.70" y1="549.30" x2="137.90" y2="549.30" stroke="#666b92" stroke-width="0.9"/>
<text x="135.50" y="550.90" font-size="4.6" fill="#3c4175" font-weight="normal" text-anchor="end">0.5</text>
<line x1="135.70" y1="528.40" x2="137.90" y2="528.40" stroke="#666b92" stroke-width="0.9"/>
<text x="135.50" y="530.00" font-size="4.6" fill="#3c4175" font-weight="normal" text-anchor="end">1.0</text>
<line x1="135.70" y1="507.50" x2="137.90" y2="507.50" stroke="#666b92" stroke-width="0.9"/>
<text x="135.50" y="509.10" font-size="4.6" fill="#3c4175" font-weight="normal" text-anchor="end">1.5</text>
<text x="123.20" y="538.80" font-size="7.6" fill="#282d6b" font-weight="bold" text-anchor="middle" transform="rotate(-90 123.20 538.80)" stroke="#282d6b" stroke-width="0.3">RQ</text>
<text x="140.85" y="511.30" font-size="9.75" fill="#282d6b" font-weight="bold" text-anchor="start" stroke="#282d6b" stroke-width="0.3">GLUT10</text>
<line x1="143.15" y1="570.20" x2="143.15" y2="572.20" stroke="#666b92" stroke-width="0.9"/>
<text x="145.45" y="580.20" font-size="8.2" fill="#282d6b" font-weight="bold" text-anchor="end" transform="rotate(-45 145.45 580.20)" stroke="#282d6b" stroke-width="0.3">MM.1S</text>
<rect x="139.65" y="528.40" width="7.00" height="41.80" fill="#222a6c"/>
<line x1="152.55" y1="570.20" x2="152.55" y2="572.20" stroke="#666b92" stroke-width="0.9"/>
<text x="154.85" y="580.20" font-size="8.2" fill="#282d6b" font-weight="bold" text-anchor="end" transform="rotate(-45 154.85 580.20)" stroke="#282d6b" stroke-width="0.3">U266</text>
<rect x="149.05" y="556.82" width="7.00" height="13.38" fill="#2b42a0"/>
<line x1="161.95" y1="570.20" x2="161.95" y2="572.20" stroke="#666b92" stroke-width="0.9"/>
<text x="164.25" y="580.20" font-size="8.2" fill="#282d6b" font-weight="bold" text-anchor="end" transform="rotate(-45 164.25 580.20)" stroke="#282d6b" stroke-width="0.3">8226</text>
<line x1="171.35" y1="570.20" x2="171.35" y2="572.20" stroke="#666b92" stroke-width="0.9"/>
<text x="173.65" y="580.20" font-size="8.2" fill="#282d6b" font-weight="bold" text-anchor="end" transform="rotate(-45 173.65 580.20)" stroke="#282d6b" stroke-width="0.3">JJN3</text>
<rect x="167.85" y="569.78" width="7.00" height="0.42" fill="#5260ae"/>
<line x1="180.75" y1="570.20" x2="180.75" y2="572.20" stroke="#666b92" stroke-width="0.9"/>
<text x="183.05" y="580.20" font-size="8.2" fill="#282d6b" font-weight="bold" text-anchor="end" transform="rotate(-45 183.05 580.20)" stroke="#282d6b" stroke-width="0.3">KMS11</text>
<rect x="177.25" y="569.78" width="7.00" height="0.42" fill="#5b8fd4"/>
<line x1="190.15" y1="570.20" x2="190.15" y2="572.20" stroke="#666b92" stroke-width="0.9"/>
<text x="192.45" y="580.20" font-size="8.2" fill="#282d6b" font-weight="bold" text-anchor="end" transform="rotate(-45 192.45 580.20)" stroke="#282d6b" stroke-width="0.3">INA6</text>
<rect x="186.65" y="569.36" width="7.00" height="0.84" fill="#93bbe7"/>
<line x1="199.55" y1="570.20" x2="199.55" y2="572.20" stroke="#666b92" stroke-width="0.9"/>
<text x="201.85" y="580.20" font-size="8.2" fill="#282d6b" font-weight="bold" text-anchor="end" transform="rotate(-45 201.85 580.20)" stroke="#282d6b" stroke-width="0.3">L363</text>
<line x1="208.95" y1="570.20" x2="208.95" y2="572.20" stroke="#666b92" stroke-width="0.9"/>
<text x="211.25" y="580.20" font-size="8.2" fill="#282d6b" font-weight="bold" text-anchor="end" transform="rotate(-45 211.25 580.20)" stroke="#282d6b" stroke-width="0.3">OCIMY1</text>
<rect x="205.45" y="569.78" width="7.00" height="0.42" fill="#2e4ca0"/>
<line x1="218.35" y1="570.20" x2="218.35" y2="572.20" stroke="#666b92" stroke-width="0.9"/>
<text x="220.65" y="580.20" font-size="8.2" fill="#282d6b" font-weight="bold" text-anchor="end" transform="rotate(-45 220.65 580.20)" stroke="#282d6b" stroke-width="0.3">H929</text>
<rect x="214.85" y="563.51" width="7.00" height="6.69" fill="#5560ad"/>
<line x1="227.75" y1="570.20" x2="227.75" y2="572.20" stroke="#666b92" stroke-width="0.9"/>
<text x="230.05" y="580.20" font-size="8.2" fill="#282d6b" font-weight="bold" text-anchor="end" transform="rotate(-45 230.05 580.20)" stroke="#282d6b" stroke-width="0.3">NBL</text>
<line x1="261.80" y1="507.00" x2="261.80" y2="570.70" stroke="#666b92" stroke-width="1.1"/>
<line x1="261.30" y1="570.20" x2="357.27" y2="570.20" stroke="#666b92" stroke-width="1.1"/>
<line x1="259.60" y1="570.20" x2="261.80" y2="570.20" stroke="#666b92" stroke-width="0.9"/>
<text x="259.40" y="571.80" font-size="4.6" fill="#3c4175" font-weight="normal" text-anchor="end">0.0</text>
<line x1="259.60" y1="554.48" x2="261.80" y2="554.48" stroke="#666b92" stroke-width="0.9"/>
<text x="259.40" y="556.08" font-size="4.6" fill="#3c4175" font-weight="normal" text-anchor="end">0.5</text>
<line x1="259.60" y1="538.75" x2="261.80" y2="538.75" stroke="#666b92" stroke-width="0.9"/>
<text x="259.40" y="540.35" font-size="4.6" fill="#3c4175" font-weight="normal" text-anchor="end">1.0</text>
<line x1="259.60" y1="523.02" x2="261.80" y2="523.02" stroke="#666b92" stroke-width="0.9"/>
<text x="259.40" y="524.62" font-size="4.6" fill="#3c4175" font-weight="normal" text-anchor="end">1.5</text>
<line x1="259.60" y1="507.30" x2="261.80" y2="507.30" stroke="#666b92" stroke-width="0.9"/>
<text x="259.40" y="508.90" font-size="4.6" fill="#3c4175" font-weight="normal" text-anchor="end">2.0</text>
<text x="247.80" y="538.80" font-size="7.6" fill="#282d6b" font-weight="bold" text-anchor="middle" transform="rotate(-90 247.80 538.80)" stroke="#282d6b" stroke-width="0.3">RQ</text>
<text x="265.85" y="511.30" font-size="9.75" fill="#282d6b" font-weight="bold" text-anchor="start" stroke="#282d6b" stroke-width="0.3">GLUT11</text>
<line x1="266.40" y1="570.20" x2="266.40" y2="572.20" stroke="#666b92" stroke-width="0.9"/>
<text x="268.70" y="580.20" font-size="8.2" fill="#282d6b" font-weight="bold" text-anchor="end" transform="rotate(-45 268.70 580.20)" stroke="#282d6b" stroke-width="0.3">MM.1S</text>
<rect x="262.90" y="538.75" width="7.00" height="31.45" fill="#222a6c"/>
<line x1="275.83" y1="570.20" x2="275.83" y2="572.20" stroke="#666b92" stroke-width="0.9"/>
<text x="278.13" y="580.20" font-size="8.2" fill="#282d6b" font-weight="bold" text-anchor="end" transform="rotate(-45 278.13 580.20)" stroke="#282d6b" stroke-width="0.3">U266</text>
<rect x="272.33" y="546.61" width="7.00" height="23.59" fill="#2b42a0"/>
<line x1="275.83" y1="544.41" x2="275.83" y2="546.61" stroke="#2b42a0" stroke-width="1.2"/>
<line x1="273.53" y1="544.41" x2="278.13" y2="544.41" stroke="#2b42a0" stroke-width="1.2"/>
<line x1="285.26" y1="570.20" x2="285.26" y2="572.20" stroke="#666b92" stroke-width="0.9"/>
<text x="287.56" y="580.20" font-size="8.2" fill="#282d6b" font-weight="bold" text-anchor="end" transform="rotate(-45 287.56 580.20)" stroke="#282d6b" stroke-width="0.3">8226</text>
<rect x="281.76" y="538.12" width="7.00" height="32.08" fill="#3658ae"/>
<line x1="285.26" y1="526.17" x2="285.26" y2="538.12" stroke="#3658ae" stroke-width="1.2"/>
<line x1="282.96" y1="526.17" x2="287.56" y2="526.17" stroke="#3658ae" stroke-width="1.2"/>
<line x1="294.69" y1="570.20" x2="294.69" y2="572.20" stroke="#666b92" stroke-width="0.9"/>
<text x="296.99" y="580.20" font-size="8.2" fill="#282d6b" font-weight="bold" text-anchor="end" transform="rotate(-45 296.99 580.20)" stroke="#282d6b" stroke-width="0.3">JJN3</text>
<rect x="291.19" y="542.21" width="7.00" height="27.99" fill="#5260ae"/>
<line x1="294.69" y1="541.58" x2="294.69" y2="542.21" stroke="#5260ae" stroke-width="1.2"/>
<line x1="292.39" y1="541.58" x2="296.99" y2="541.58" stroke="#5260ae" stroke-width="1.2"/>
<line x1="304.12" y1="570.20" x2="304.12" y2="572.20" stroke="#666b92" stroke-width="0.9"/>
<text x="306.42" y="580.20" font-size="8.2" fill="#282d6b" font-weight="bold" text-anchor="end" transform="rotate(-45 306.42 580.20)" stroke="#282d6b" stroke-width="0.3">KMS11</text>
<rect x="300.62" y="542.84" width="7.00" height="27.36" fill="#5b8fd4"/>
<line x1="304.12" y1="535.61" x2="304.12" y2="542.84" stroke="#5b8fd4" stroke-width="1.2"/>
<line x1="301.82" y1="535.61" x2="306.42" y2="535.61" stroke="#5b8fd4" stroke-width="1.2"/>
<line x1="313.55" y1="570.20" x2="313.55" y2="572.20" stroke="#666b92" stroke-width="0.9"/>
<text x="315.85" y="580.20" font-size="8.2" fill="#282d6b" font-weight="bold" text-anchor="end" transform="rotate(-45 315.85 580.20)" stroke="#282d6b" stroke-width="0.3">INA6</text>
<rect x="310.05" y="546.61" width="7.00" height="23.59" fill="#93bbe7"/>
<line x1="313.55" y1="541.89" x2="313.55" y2="546.61" stroke="#93bbe7" stroke-width="1.2"/>
<line x1="311.25" y1="541.89" x2="315.85" y2="541.89" stroke="#93bbe7" stroke-width="1.2"/>
<line x1="322.98" y1="570.20" x2="322.98" y2="572.20" stroke="#666b92" stroke-width="0.9"/>
<text x="325.28" y="580.20" font-size="8.2" fill="#282d6b" font-weight="bold" text-anchor="end" transform="rotate(-45 325.28 580.20)" stroke="#282d6b" stroke-width="0.3">L363</text>
<rect x="319.48" y="527.74" width="7.00" height="42.46" fill="#cfe1f5"/>
<line x1="322.98" y1="523.97" x2="322.98" y2="527.74" stroke="#cfe1f5" stroke-width="1.2"/>
<line x1="320.68" y1="523.97" x2="325.28" y2="523.97" stroke="#cfe1f5" stroke-width="1.2"/>
<line x1="332.41" y1="570.20" x2="332.41" y2="572.20" stroke="#666b92" stroke-width="0.9"/>
<text x="334.71" y="580.20" font-size="8.2" fill="#282d6b" font-weight="bold" text-anchor="end" transform="rotate(-45 334.71 580.20)" stroke="#282d6b" stroke-width="0.3">OCIMY1</text>
<rect x="328.91" y="534.03" width="7.00" height="36.17" fill="#2e4ca0"/>
<line x1="332.41" y1="533.09" x2="332.41" y2="534.03" stroke="#2e4ca0" stroke-width="1.2"/>
<line x1="330.11" y1="533.09" x2="334.71" y2="533.09" stroke="#2e4ca0" stroke-width="1.2"/>
<line x1="341.84" y1="570.20" x2="341.84" y2="572.20" stroke="#666b92" stroke-width="0.9"/>
<text x="344.14" y="580.20" font-size="8.2" fill="#282d6b" font-weight="bold" text-anchor="end" transform="rotate(-45 344.14 580.20)" stroke="#282d6b" stroke-width="0.3">H929</text>
<rect x="338.34" y="552.27" width="7.00" height="17.93" fill="#5560ad"/>
<line x1="351.27" y1="570.20" x2="351.27" y2="572.20" stroke="#666b92" stroke-width="0.9"/>
<text x="353.57" y="580.20" font-size="8.2" fill="#282d6b" font-weight="bold" text-anchor="end" transform="rotate(-45 353.57 580.20)" stroke="#282d6b" stroke-width="0.3">NBL</text>
<path d="M347.47,570.20 Q347.47,567.06 351.27,567.06 Q355.07,567.06 355.07,570.20 Z" fill="#e02030"/>
<line x1="378.90" y1="509.50" x2="378.90" y2="570.90" stroke="#666b92" stroke-width="1.1"/>
<line x1="378.40" y1="570.40" x2="469.30" y2="570.40" stroke="#666b92" stroke-width="1.1"/>
<line x1="376.70" y1="570.40" x2="378.90" y2="570.40" stroke="#666b92" stroke-width="0.9"/>
<text x="376.50" y="572.00" font-size="4.6" fill="#3c4175" font-weight="normal" text-anchor="end">0</text>
<line x1="376.70" y1="558.42" x2="378.90" y2="558.42" stroke="#666b92" stroke-width="0.9"/>
<text x="376.50" y="560.02" font-size="4.6" fill="#3c4175" font-weight="normal" text-anchor="end">50</text>
<line x1="376.70" y1="546.44" x2="378.90" y2="546.44" stroke="#666b92" stroke-width="0.9"/>
<text x="376.50" y="548.04" font-size="4.6" fill="#3c4175" font-weight="normal" text-anchor="end">100</text>
<line x1="376.70" y1="534.46" x2="378.90" y2="534.46" stroke="#666b92" stroke-width="0.9"/>
<text x="376.50" y="536.06" font-size="4.6" fill="#3c4175" font-weight="normal" text-anchor="end">150</text>
<line x1="376.70" y1="522.48" x2="378.90" y2="522.48" stroke="#666b92" stroke-width="0.9"/>
<text x="376.50" y="524.08" font-size="4.6" fill="#3c4175" font-weight="normal" text-anchor="end">200</text>
<line x1="376.70" y1="510.50" x2="378.90" y2="510.50" stroke="#666b92" stroke-width="0.9"/>
<text x="376.50" y="512.10" font-size="4.6" fill="#3c4175" font-weight="normal" text-anchor="end">250</text>
<text x="365.00" y="540.20" font-size="7.6" fill="#282d6b" font-weight="bold" text-anchor="middle" transform="rotate(-90 365.00 540.20)" stroke="#282d6b" stroke-width="0.3">RQ</text>
<text x="381.60" y="514.50" font-size="9.75" fill="#282d6b" font-weight="bold" text-anchor="start" stroke="#282d6b" stroke-width="0.3">GLUT12</text>
<line x1="383.70" y1="570.40" x2="383.70" y2="572.40" stroke="#666b92" stroke-width="0.9"/>
<text x="386.00" y="580.40" font-size="8.2" fill="#282d6b" font-weight="bold" text-anchor="end" transform="rotate(-45 386.00 580.40)" stroke="#282d6b" stroke-width="0.3">MM.1S</text>
<line x1="392.70" y1="570.40" x2="392.70" y2="572.40" stroke="#666b92" stroke-width="0.9"/>
<text x="395.00" y="580.40" font-size="8.2" fill="#282d6b" font-weight="bold" text-anchor="end" transform="rotate(-45 395.00 580.40)" stroke="#282d6b" stroke-width="0.3">U266</text>
<rect x="389.20" y="556.50" width="7.00" height="13.90" fill="#2b42a0"/>
<line x1="392.70" y1="547.16" x2="392.70" y2="556.50" stroke="#2b42a0" stroke-width="1.2"/>
<line x1="390.40" y1="547.16" x2="395.00" y2="547.16" stroke="#2b42a0" stroke-width="1.2"/>
<line x1="401.70" y1="570.40" x2="401.70" y2="572.40" stroke="#666b92" stroke-width="0.9"/>
<text x="404.00" y="580.40" font-size="8.2" fill="#282d6b" font-weight="bold" text-anchor="end" transform="rotate(-45 404.00 580.40)" stroke="#282d6b" stroke-width="0.3">8226</text>
<rect x="398.20" y="556.98" width="7.00" height="13.42" fill="#3658ae"/>
<line x1="401.70" y1="549.55" x2="401.70" y2="556.98" stroke="#3658ae" stroke-width="1.2"/>
<line x1="399.40" y1="549.55" x2="404.00" y2="549.55" stroke="#3658ae" stroke-width="1.2"/>
<line x1="410.70" y1="570.40" x2="410.70" y2="572.40" stroke="#666b92" stroke-width="0.9"/>
<text x="413.00" y="580.40" font-size="8.2" fill="#282d6b" font-weight="bold" text-anchor="end" transform="rotate(-45 413.00 580.40)" stroke="#282d6b" stroke-width="0.3">JJN3</text>
<line x1="419.70" y1="570.40" x2="419.70" y2="572.40" stroke="#666b92" stroke-width="0.9"/>
<text x="422.00" y="580.40" font-size="8.2" fill="#282d6b" font-weight="bold" text-anchor="end" transform="rotate(-45 422.00 580.40)" stroke="#282d6b" stroke-width="0.3">KMS11</text>
<rect x="416.20" y="538.29" width="7.00" height="32.11" fill="#5b8fd4"/>
<line x1="419.70" y1="523.68" x2="419.70" y2="538.29" stroke="#5b8fd4" stroke-width="1.2"/>
<line x1="417.40" y1="523.68" x2="422.00" y2="523.68" stroke="#5b8fd4" stroke-width="1.2"/>
<line x1="428.70" y1="570.40" x2="428.70" y2="572.40" stroke="#666b92" stroke-width="0.9"/>
<text x="431.00" y="580.40" font-size="8.2" fill="#282d6b" font-weight="bold" text-anchor="end" transform="rotate(-45 431.00 580.40)" stroke="#282d6b" stroke-width="0.3">INA6</text>
<rect x="425.20" y="565.13" width="7.00" height="5.27" fill="#93bbe7"/>
<line x1="428.70" y1="562.01" x2="428.70" y2="565.13" stroke="#93bbe7" stroke-width="1.2"/>
<line x1="426.40" y1="562.01" x2="431.00" y2="562.01" stroke="#93bbe7" stroke-width="1.2"/>
<line x1="437.70" y1="570.40" x2="437.70" y2="572.40" stroke="#666b92" stroke-width="0.9"/>
<text x="440.00" y="580.40" font-size="8.2" fill="#282d6b" font-weight="bold" text-anchor="end" transform="rotate(-45 440.00 580.40)" stroke="#282d6b" stroke-width="0.3">L363</text>
<line x1="446.70" y1="570.40" x2="446.70" y2="572.40" stroke="#666b92" stroke-width="0.9"/>
<text x="449.00" y="580.40" font-size="8.2" fill="#282d6b" font-weight="bold" text-anchor="end" transform="rotate(-45 449.00 580.40)" stroke="#282d6b" stroke-width="0.3">OCIMY1</text>
<line x1="455.70" y1="570.40" x2="455.70" y2="572.40" stroke="#666b92" stroke-width="0.9"/>
<text x="458.00" y="580.40" font-size="8.2" fill="#282d6b" font-weight="bold" text-anchor="end" transform="rotate(-45 458.00 580.40)" stroke="#282d6b" stroke-width="0.3">H929</text>
<rect x="452.20" y="566.81" width="7.00" height="3.59" fill="#5560ad"/>
<line x1="464.70" y1="570.40" x2="464.70" y2="572.40" stroke="#666b92" stroke-width="0.9"/>
<text x="467.00" y="580.40" font-size="8.2" fill="#282d6b" font-weight="bold" text-anchor="end" transform="rotate(-45 467.00 580.40)" stroke="#282d6b" stroke-width="0.3">NBL</text>
</svg>
</body></html>
